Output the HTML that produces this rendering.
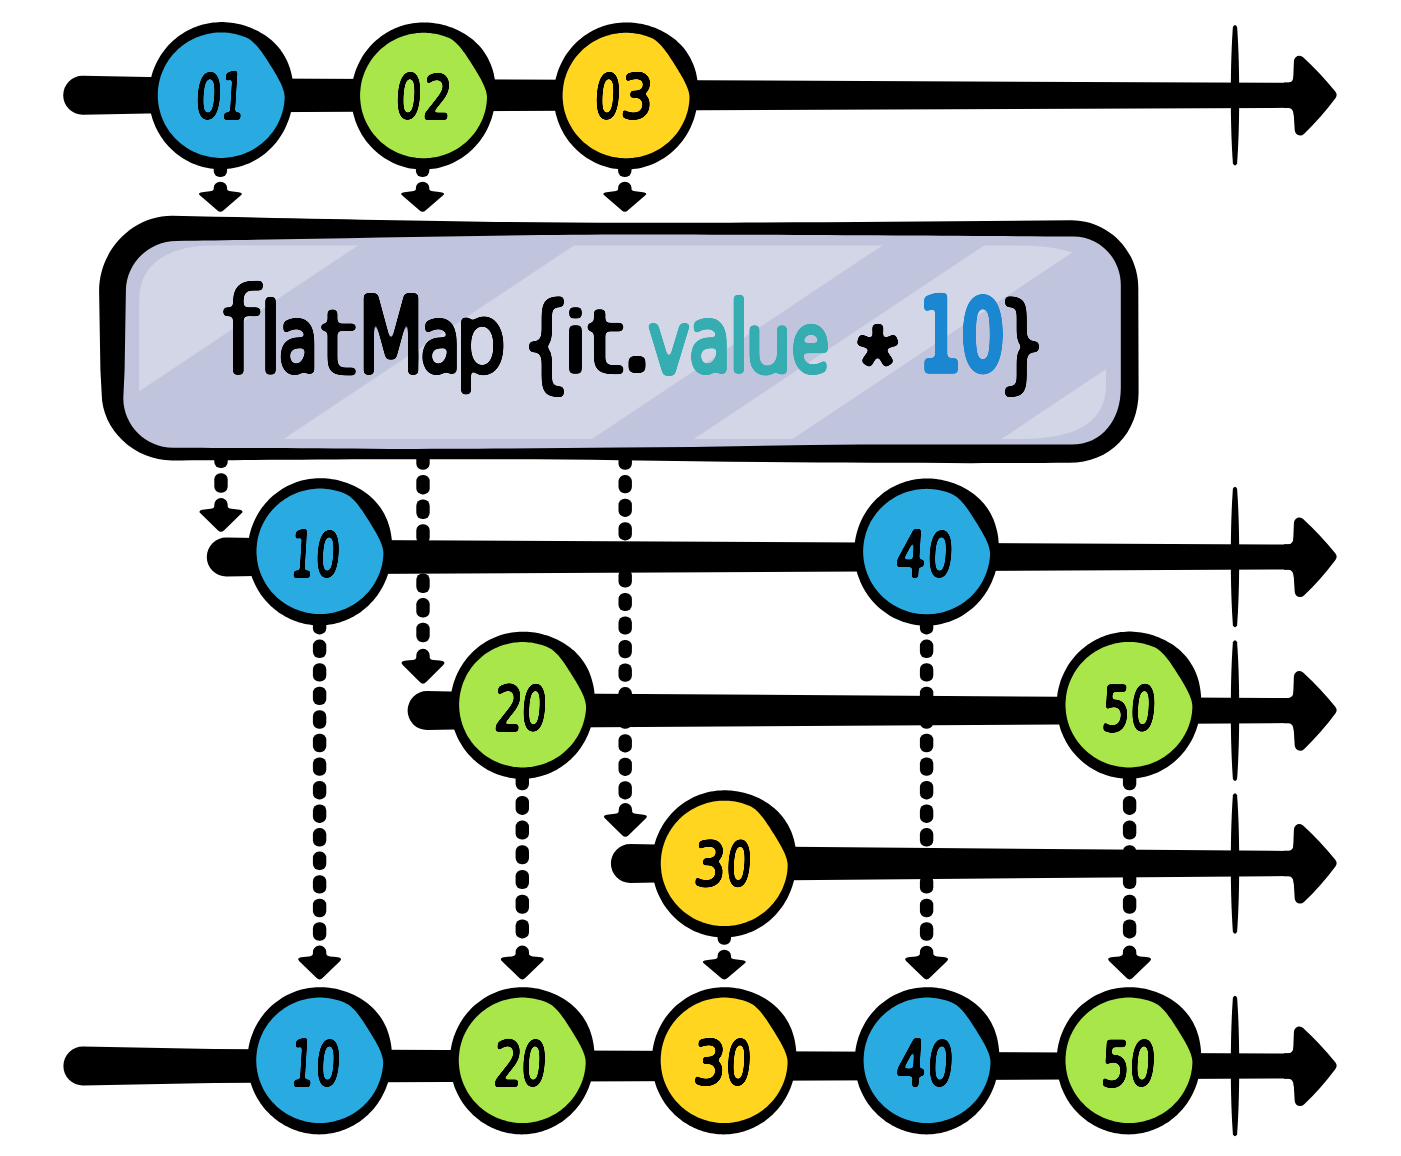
<!DOCTYPE html>
<html lang="en"><head><meta charset="utf-8"><title>flatMap marble diagram</title><style>
html,body{margin:0;padding:0;background:#fff;}
svg{display:block;}
text{fill:#000;stroke:#000;stroke-linejoin:round;stroke-linecap:round;white-space:pre;}
</style></head><body>
<svg width="1401" height="1156" viewBox="0 0 1401 1156">
<rect width="1401" height="1156" fill="#fff"/>
<defs><filter id="rf" x="-5%" y="-20%" width="110%" height="140%" color-interpolation-filters="sRGB"><feGaussianBlur stdDeviation="2.3"/><feComponentTransfer><feFuncA type="linear" slope="9" intercept="-4"/></feComponentTransfer></filter><filter id="rn" x="-20%" y="-20%" width="140%" height="140%" color-interpolation-filters="sRGB"><feGaussianBlur stdDeviation="1.4"/><feComponentTransfer><feFuncA type="linear" slope="7" intercept="-3"/></feComponentTransfer></filter></defs>
<g fill="#000">
<rect x="213.7" y="160.0" width="13.4" height="17.0" rx="6.2" ry="6.2"/>
<path d="M213.7,187.7 A6.7,5.93 0 0 1 227.1,187.7 L227.1,189.0 Q227.3,191.1 230.9,191.3 L236.9,191.9 Q244.4,192.5 240.7,195.5 L223.6,210.2 Q220.4,213.2 217.2,210.2 L200.1,195.5 Q196.4,192.5 203.9,191.9 L209.9,191.3 Q213.5,191.1 213.7,189.0 Z"/>
<rect x="415.9" y="160.0" width="13.4" height="17.0" rx="6.2" ry="6.2"/>
<path d="M415.9,187.7 A6.7,5.93 0 0 1 429.3,187.7 L429.3,189.0 Q429.5,191.1 433.1,191.3 L439.1,191.9 Q446.6,192.5 442.9,195.5 L425.8,210.2 Q422.6,213.2 419.4,210.2 L402.3,195.5 Q398.6,192.5 406.1,191.9 L412.1,191.3 Q415.7,191.1 415.9,189.0 Z"/>
<rect x="618.1" y="160.0" width="13.4" height="17.0" rx="6.2" ry="6.2"/>
<path d="M618.1,187.7 A6.7,5.93 0 0 1 631.5,187.7 L631.5,189.0 Q631.7,191.1 635.3,191.3 L641.3,191.9 Q648.8,192.5 645.1,195.5 L628.0,210.2 Q624.8,213.2 621.6,210.2 L604.5,195.5 Q600.8,192.5 608.3,191.9 L614.3,191.3 Q617.9,191.1 618.1,189.0 Z"/>
<rect x="214.3" y="448.7" width="13.4" height="19.4" rx="6.2" ry="6.2"/><rect x="214.3" y="473.3" width="13.4" height="19.4" rx="6.2" ry="6.2"/>
<path d="M214.3,504.7 A6.7,6.70 0 0 1 227.7,504.7 L227.7,506.2 Q227.9,508.6 231.5,508.8 L237.5,509.5 Q245.0,510.2 241.3,513.6 L224.2,530.2 Q221.0,533.5 217.8,530.2 L200.7,513.6 Q197.0,510.2 204.5,509.5 L210.5,508.8 Q214.1,508.6 214.3,506.2 Z"/>
<rect x="416.3" y="450.2" width="13.4" height="19.5" rx="6.2" ry="6.2"/><rect x="416.3" y="474.9" width="13.4" height="19.5" rx="6.2" ry="6.2"/><rect x="416.3" y="499.5" width="13.4" height="19.5" rx="6.2" ry="6.2"/><rect x="416.3" y="524.2" width="13.4" height="19.5" rx="6.2" ry="6.2"/><rect x="416.3" y="548.8" width="13.4" height="19.5" rx="6.2" ry="6.2"/><rect x="416.3" y="573.5" width="13.4" height="19.5" rx="6.2" ry="6.2"/><rect x="416.3" y="598.1" width="13.4" height="19.5" rx="6.2" ry="6.2"/><rect x="416.3" y="622.8" width="13.4" height="19.5" rx="6.2" ry="6.2"/>
<path d="M416.3,655.6 A6.7,6.97 0 0 1 429.7,655.6 L429.7,657.2 Q429.9,659.7 433.5,659.9 L439.5,660.6 Q447.0,661.3 443.3,664.9 L426.2,682.1 Q423.0,685.6 419.8,682.1 L402.7,664.9 Q399.0,661.3 406.5,660.6 L412.5,659.9 Q416.1,659.7 416.3,657.2 Z"/>
<rect x="618.5" y="451.6" width="13.4" height="18.2" rx="6.2" ry="6.2"/><rect x="618.5" y="475.1" width="13.4" height="18.2" rx="6.2" ry="6.2"/><rect x="618.5" y="498.7" width="13.4" height="18.2" rx="6.2" ry="6.2"/><rect x="618.5" y="522.2" width="13.4" height="18.2" rx="6.2" ry="6.2"/><rect x="618.5" y="545.8" width="13.4" height="18.2" rx="6.2" ry="6.2"/><rect x="618.5" y="569.3" width="13.4" height="18.2" rx="6.2" ry="6.2"/><rect x="618.5" y="592.9" width="13.4" height="18.2" rx="6.2" ry="6.2"/><rect x="618.5" y="616.4" width="13.4" height="18.2" rx="6.2" ry="6.2"/><rect x="618.5" y="640.0" width="13.4" height="18.2" rx="6.2" ry="6.2"/><rect x="618.5" y="663.5" width="13.4" height="18.2" rx="6.2" ry="6.2"/><rect x="618.5" y="687.1" width="13.4" height="18.2" rx="6.2" ry="6.2"/><rect x="618.5" y="710.6" width="13.4" height="18.2" rx="6.2" ry="6.2"/><rect x="618.5" y="734.2" width="13.4" height="18.2" rx="6.2" ry="6.2"/><rect x="618.5" y="757.7" width="13.4" height="18.2" rx="6.2" ry="6.2"/><rect x="618.5" y="781.2" width="13.4" height="18.2" rx="6.2" ry="6.2"/>
<path d="M618.7,809.7 A6.7,6.70 0 0 1 632.1,809.7 L632.1,811.2 Q632.3,813.6 635.9,813.8 L641.9,814.5 Q649.4,815.2 645.7,818.6 L628.6,835.2 Q625.4,838.5 622.2,835.2 L605.1,818.6 Q601.4,815.2 608.9,814.5 L614.9,813.8 Q618.5,813.6 618.7,811.2 Z"/>
<rect x="312.9" y="616.0" width="13.4" height="18.4" rx="6.2" ry="6.2"/><rect x="312.9" y="639.6" width="13.4" height="18.4" rx="6.2" ry="6.2"/><rect x="312.9" y="663.2" width="13.4" height="18.4" rx="6.2" ry="6.2"/><rect x="312.9" y="686.7" width="13.4" height="18.4" rx="6.2" ry="6.2"/><rect x="312.9" y="710.3" width="13.4" height="18.4" rx="6.2" ry="6.2"/><rect x="312.9" y="733.8" width="13.4" height="18.4" rx="6.2" ry="6.2"/><rect x="312.9" y="757.4" width="13.4" height="18.4" rx="6.2" ry="6.2"/><rect x="312.9" y="781.0" width="13.4" height="18.4" rx="6.2" ry="6.2"/><rect x="312.9" y="804.5" width="13.4" height="18.4" rx="6.2" ry="6.2"/><rect x="312.9" y="828.1" width="13.4" height="18.4" rx="6.2" ry="6.2"/><rect x="312.9" y="851.6" width="13.4" height="18.4" rx="6.2" ry="6.2"/><rect x="312.9" y="875.2" width="13.4" height="18.4" rx="6.2" ry="6.2"/><rect x="312.9" y="898.8" width="13.4" height="18.4" rx="6.2" ry="6.2"/><rect x="312.9" y="922.3" width="13.4" height="18.4" rx="6.2" ry="6.2"/>
<path d="M312.9,952.3 A6.7,6.70 0 0 1 326.3,952.3 L326.3,953.8 Q326.5,956.2 330.1,956.4 L336.1,957.1 Q343.6,957.8 339.9,961.2 L322.8,977.8 Q319.6,981.1 316.4,977.8 L299.3,961.2 Q295.6,957.8 303.1,957.1 L309.1,956.4 Q312.7,956.2 312.9,953.8 Z"/>
<rect x="515.6" y="771.2" width="13.4" height="19.0" rx="6.2" ry="6.2"/><rect x="515.6" y="795.9" width="13.4" height="19.0" rx="6.2" ry="6.2"/><rect x="515.6" y="820.6" width="13.4" height="19.0" rx="6.2" ry="6.2"/><rect x="515.6" y="845.3" width="13.4" height="19.0" rx="6.2" ry="6.2"/><rect x="515.6" y="870.0" width="13.4" height="19.0" rx="6.2" ry="6.2"/><rect x="515.6" y="894.7" width="13.4" height="19.0" rx="6.2" ry="6.2"/><rect x="515.6" y="919.4" width="13.4" height="19.0" rx="6.2" ry="6.2"/>
<path d="M515.6,952.3 A6.7,6.70 0 0 1 529.0,952.3 L529.0,953.8 Q529.2,956.2 532.8,956.4 L538.8,957.1 Q546.3,957.8 542.6,961.2 L525.5,977.8 Q522.3,981.1 519.1,977.8 L502.0,961.2 Q498.3,957.8 505.8,957.1 L511.8,956.4 Q515.4,956.2 515.6,953.8 Z"/>
<rect x="717.6" y="926.0" width="13.4" height="18.8" rx="6.2" ry="6.2"/>
<path d="M717.6,955.7 A6.7,5.86 0 0 1 731.0,955.7 L731.0,957.0 Q731.2,959.1 734.8,959.3 L740.8,959.9 Q748.3,960.5 744.6,963.5 L727.5,978.0 Q724.3,980.9 721.1,978.0 L704.0,963.5 Q700.3,960.5 707.8,959.9 L713.8,959.3 Q717.4,959.1 717.6,957.0 Z"/>
<rect x="919.9" y="616.0" width="13.4" height="18.4" rx="6.2" ry="6.2"/><rect x="919.9" y="639.6" width="13.4" height="18.4" rx="6.2" ry="6.2"/><rect x="919.9" y="663.2" width="13.4" height="18.4" rx="6.2" ry="6.2"/><rect x="919.9" y="686.7" width="13.4" height="18.4" rx="6.2" ry="6.2"/><rect x="919.9" y="710.3" width="13.4" height="18.4" rx="6.2" ry="6.2"/><rect x="919.9" y="733.8" width="13.4" height="18.4" rx="6.2" ry="6.2"/><rect x="919.9" y="757.4" width="13.4" height="18.4" rx="6.2" ry="6.2"/><rect x="919.9" y="781.0" width="13.4" height="18.4" rx="6.2" ry="6.2"/><rect x="919.9" y="804.5" width="13.4" height="18.4" rx="6.2" ry="6.2"/><rect x="919.9" y="828.1" width="13.4" height="18.4" rx="6.2" ry="6.2"/><rect x="919.9" y="851.6" width="13.4" height="18.4" rx="6.2" ry="6.2"/><rect x="919.9" y="875.2" width="13.4" height="18.4" rx="6.2" ry="6.2"/><rect x="919.9" y="898.8" width="13.4" height="18.4" rx="6.2" ry="6.2"/><rect x="919.9" y="922.3" width="13.4" height="18.4" rx="6.2" ry="6.2"/>
<path d="M919.9,952.3 A6.7,6.70 0 0 1 933.3,952.3 L933.3,953.8 Q933.5,956.2 937.1,956.4 L943.1,957.1 Q950.6,957.8 946.9,961.2 L929.8,977.8 Q926.6,981.1 923.4,977.8 L906.3,961.2 Q902.6,957.8 910.1,957.1 L916.1,956.4 Q919.7,956.2 919.9,953.8 Z"/>
<rect x="1122.9" y="771.2" width="13.4" height="19.0" rx="6.2" ry="6.2"/><rect x="1122.9" y="795.9" width="13.4" height="19.0" rx="6.2" ry="6.2"/><rect x="1122.9" y="820.6" width="13.4" height="19.0" rx="6.2" ry="6.2"/><rect x="1122.9" y="845.3" width="13.4" height="19.0" rx="6.2" ry="6.2"/><rect x="1122.9" y="870.0" width="13.4" height="19.0" rx="6.2" ry="6.2"/><rect x="1122.9" y="894.7" width="13.4" height="19.0" rx="6.2" ry="6.2"/><rect x="1122.9" y="919.4" width="13.4" height="19.0" rx="6.2" ry="6.2"/>
<path d="M1122.9,952.3 A6.7,6.70 0 0 1 1136.3,952.3 L1136.3,953.8 Q1136.5,956.2 1140.1,956.4 L1146.1,957.1 Q1153.6,957.8 1149.9,961.2 L1132.8,977.8 Q1129.6,981.1 1126.4,977.8 L1109.3,961.2 Q1105.6,957.8 1113.1,957.1 L1119.1,956.4 Q1122.7,956.2 1122.9,953.8 Z"/>
<path d="M82.7,75.8 L213.2,78.3 L1291.0,82.8 L1291.0,107.8 L213.2,112.3 L82.7,114.8 A19.5,19.5 0 0 1 82.7,75.8 Z"/>
<path d="M1299.4,61.3 Q1316.2,76.7 1331.0,95.0 Q1316.6,114.3 1300.2,129.9 Q1297.6,95.3 1299.4,61.3 Z" stroke="#000" stroke-width="11" stroke-linejoin="round"/><path d="M1284,82.6 L1288.5,82.6 Q1293.4,82.4 1293.8,75.3 L1296,75.3 L1296,115.3 L1293.8,115.3 Q1293.4,108.2 1288.5,108.0 L1284,108.0 Z"/>
<path d="M1232.9,27.0 Q1235.0,23.0 1237.1,27.0 C1238.4,45.0 1239.2,67.3 1239.2,95.3 C1239.2,123.3 1238.4,145.6 1237.1,163.6 Q1235.0,167.6 1232.9,163.6 C1231.6,145.6 1230.8,123.3 1230.8,95.3 C1230.8,67.3 1231.6,45.0 1232.9,27.0 Z"/>
<path d="M226.3,537.5 L356.8,540.0 L1291.0,544.5 L1291.0,569.5 L356.8,574.0 L226.3,576.5 A19.5,19.5 0 0 1 226.3,537.5 Z"/>
<path d="M1299.4,523.0 Q1316.2,538.4 1331.0,556.7 Q1316.6,576.0 1300.2,591.6 Q1297.6,557.0 1299.4,523.0 Z" stroke="#000" stroke-width="11" stroke-linejoin="round"/><path d="M1284,544.3 L1288.5,544.3 Q1293.4,544.1 1293.8,537.0 L1296,537.0 L1296,577.0 L1293.8,577.0 Q1293.4,569.9 1288.5,569.7 L1284,569.7 Z"/>
<path d="M1232.9,488.7 Q1235.0,484.7 1237.1,488.7 C1238.4,506.7 1239.2,529.0 1239.2,557.0 C1239.2,585.0 1238.4,607.3 1237.1,625.3 Q1235.0,629.3 1232.9,625.3 C1231.6,607.3 1230.8,585.0 1230.8,557.0 C1230.8,529.0 1231.6,506.7 1232.9,488.7 Z"/>
<path d="M427.1,691.1 L557.6,693.6 L1291.0,698.1 L1291.0,723.1 L557.6,727.6 L427.1,730.1 A19.5,19.5 0 0 1 427.1,691.1 Z"/>
<path d="M1299.4,676.6 Q1316.2,692.0 1331.0,710.3 Q1316.6,729.6 1300.2,745.2 Q1297.6,710.6 1299.4,676.6 Z" stroke="#000" stroke-width="11" stroke-linejoin="round"/><path d="M1284,697.9 L1288.5,697.9 Q1293.4,697.7 1293.8,690.6 L1296,690.6 L1296,730.6 L1293.8,730.6 Q1293.4,723.5 1288.5,723.3 L1284,723.3 Z"/>
<path d="M1232.9,642.3 Q1235.0,638.3 1237.1,642.3 C1238.4,660.3 1239.2,682.6 1239.2,710.6 C1239.2,738.6 1238.4,760.9 1237.1,778.9 Q1235.0,782.9 1232.9,778.9 C1231.6,760.9 1230.8,738.6 1230.8,710.6 C1230.8,682.6 1231.6,660.3 1232.9,642.3 Z"/>
<path d="M630.4,844.0 L760.9,846.5 L1291.0,851.0 L1291.0,876.0 L760.9,880.5 L630.4,883.0 A19.5,19.5 0 0 1 630.4,844.0 Z"/>
<path d="M1299.4,829.5 Q1316.2,844.9 1331.0,863.2 Q1316.6,882.5 1300.2,898.1 Q1297.6,863.5 1299.4,829.5 Z" stroke="#000" stroke-width="11" stroke-linejoin="round"/><path d="M1284,850.8 L1288.5,850.8 Q1293.4,850.6 1293.8,843.5 L1296,843.5 L1296,883.5 L1293.8,883.5 Q1293.4,876.4 1288.5,876.2 L1284,876.2 Z"/>
<path d="M1232.9,795.2 Q1235.0,791.2 1237.1,795.2 C1238.4,813.2 1239.2,835.5 1239.2,863.5 C1239.2,891.5 1238.4,913.8 1237.1,931.8 Q1235.0,935.8 1232.9,931.8 C1231.6,913.8 1230.8,891.5 1230.8,863.5 C1230.8,835.5 1231.6,813.2 1232.9,795.2 Z"/>
<path d="M82.9,1046.5 L213.4,1049.0 L1291.0,1053.5 L1291.0,1078.5 L213.4,1083.0 L82.9,1085.5 A19.5,19.5 0 0 1 82.9,1046.5 Z"/>
<path d="M1299.4,1032.0 Q1316.2,1047.4 1331.0,1065.7 Q1316.6,1085.0 1300.2,1100.6 Q1297.6,1066.0 1299.4,1032.0 Z" stroke="#000" stroke-width="11" stroke-linejoin="round"/><path d="M1284,1053.3 L1288.5,1053.3 Q1293.4,1053.1 1293.8,1046.0 L1296,1046.0 L1296,1086.0 L1293.8,1086.0 Q1293.4,1078.9 1288.5,1078.7 L1284,1078.7 Z"/>
<path d="M1232.9,997.7 Q1235.0,993.7 1237.1,997.7 C1238.4,1015.7 1239.2,1038.0 1239.2,1066.0 C1239.2,1094.0 1238.4,1116.3 1237.1,1134.3 Q1235.0,1138.3 1232.9,1134.3 C1231.6,1116.3 1230.8,1094.0 1230.8,1066.0 C1230.8,1038.0 1231.6,1015.7 1232.9,997.7 Z"/>
<path d="M172,215.8 C390,220.2 500,222.8 630,222.8 C760,222.8 930,221.6 1071,220.2 C1108.6,220.2 1138.3,250.5 1138.3,288 L1138.6,392 C1138.6,433 1110,462.8 1069,462.8 C960,463.6 800,463 620,460.3 C540,459 460,459.2 390,459.3 C300,459.5 230,460.3 172,460.4 C134.4,460.4 101.8,429.6 101.7,394 L100.4,370 L99.1,291 C99.1,250.7 131.7,215.8 172,215.8 Z"/>
<path d="M176.5,241 C300,239.5 500,234.5 630,234.5 C760,234.5 950,235.8 1073,236.6 C1099.8,236.6 1120.8,258.2 1120.8,285 L1120.8,388 C1120.8,419.5 1102.5,444.6 1071.5,444.6 C1000,444.4 900,444.4 860,444.5 C780,445 700,447 620,447.6 C540,448.6 450,449 390,449 C300,448.5 230,447.8 173,447.7 C146,447.7 123.4,425.5 123.3,398.5 L124.6,370 L125.9,291 C125.9,263.4 148.9,241 176.5,241 Z" fill="#c0c5dd"/>
<clipPath id="ins"><path d="M139.2,300 C139.2,270 160,245.2 215,245.2 L1005,245.2 C1085,245.2 1106,260 1106,305 L1106,385 C1106,420 1080,439 1020,439 L139.2,439 Z"/></clipPath>
<g clip-path="url(#ins)" fill="#d2d6e6">
<path d="M100,245.2 L358.5,245.2 L67.8,439.0 L-190.7,439.0 Z"/>
<path d="M574.3,245.2 L882.7,245.2 L592.0,439.0 L283.6,439.0 Z"/>
<path d="M984.4,245.2 L1083.2,245.2 L792.5,439.0 L693.7,439.0 Z"/>
<path d="M1292.2,245.2 L1500,245.2 L1209.3,439.0 L1001.5,439.0 Z"/>
</g>
<path d="M293.3,95.8 L293.2,98.3 L292.9,100.8 L292.6,103.3 L292.2,105.8 L291.8,108.3 L291.3,110.8 L290.7,113.2 L290.0,115.7 L289.3,118.1 L288.4,120.4 L287.5,122.8 L286.6,125.1 L285.5,127.4 L284.4,129.7 L283.2,131.9 L282.0,134.1 L280.6,136.2 L279.2,138.3 L277.7,140.4 L276.2,142.4 L274.6,144.3 L272.9,146.2 L271.1,148.0 L269.3,149.8 L267.4,151.5 L265.5,153.2 L263.5,154.7 L261.4,156.3 L259.3,157.7 L257.2,159.0 L255.0,160.3 L252.7,161.5 L250.4,162.7 L248.1,163.7 L245.7,164.6 L243.3,165.5 L240.9,166.3 L238.4,167.0 L235.9,167.6 L233.4,168.1 L230.9,168.5 L228.3,168.8 L225.8,169.1 L223.2,169.2 L220.7,169.3 L218.1,169.2 L215.5,169.1 L213.0,168.8 L210.4,168.5 L207.9,168.1 L205.4,167.6 L202.9,167.0 L200.4,166.3 L198.0,165.5 L195.6,164.6 L193.2,163.7 L190.9,162.7 L188.6,161.5 L186.3,160.3 L184.1,159.0 L182.0,157.7 L179.9,156.3 L177.8,154.7 L175.8,153.2 L173.9,151.5 L172.0,149.8 L170.2,148.0 L168.4,146.2 L166.7,144.3 L165.1,142.4 L163.6,140.4 L162.1,138.3 L160.7,136.2 L159.4,134.1 L158.1,131.9 L156.9,129.6 L155.8,127.4 L154.8,125.1 L153.9,122.8 L153.0,120.4 L152.2,118.0 L151.5,115.6 L150.9,113.2 L150.3,110.7 L149.9,108.2 L149.5,105.8 L149.2,103.3 L149.0,100.8 L148.9,98.3 L148.8,95.8 L148.9,93.3 L149.0,90.8 L149.2,88.3 L149.5,85.8 L149.9,83.3 L150.3,80.8 L150.9,78.4 L151.5,75.9 L152.2,73.5 L153.0,71.1 L153.9,68.8 L154.8,66.5 L155.8,64.2 L156.9,61.9 L158.1,59.7 L159.4,57.5 L160.7,55.3 L162.1,53.2 L163.6,51.2 L165.1,49.2 L166.7,47.2 L168.4,45.3 L170.2,43.5 L172.0,41.7 L173.9,40.0 L175.8,38.4 L177.8,36.8 L179.9,35.3 L182.0,33.9 L184.1,32.5 L186.3,31.2 L188.6,30.0 L190.9,28.9 L193.2,27.8 L195.6,26.9 L198.0,26.0 L200.4,25.2 L202.9,24.5 L205.4,23.9 L207.9,23.4 L210.4,23.0 L213.0,22.6 L215.5,22.4 L218.1,22.2 L220.7,22.1 L223.2,22.1 L225.8,22.2 L228.4,22.4 L230.9,22.7 L233.5,23.1 L236.0,23.5 L238.5,24.0 L241.1,24.6 L243.5,25.3 L246.0,26.1 L248.5,26.9 L250.9,27.8 L253.3,28.9 L255.7,29.9 L258.0,31.1 L260.3,32.4 L262.5,33.7 L264.7,35.1 L266.9,36.6 L269.0,38.2 L271.0,39.8 L273.0,41.6 L274.9,43.4 L276.7,45.3 L278.4,47.3 L280.1,49.3 L281.6,51.5 L283.1,53.7 L284.5,55.9 L285.7,58.2 L286.9,60.6 L288.0,62.9 L288.9,65.4 L289.8,67.8 L290.5,70.3 L291.2,72.8 L291.8,75.4 L292.3,77.9 L292.7,80.5 L293.0,83.0 L293.2,85.6 L293.4,88.1 L293.4,90.7 L293.4,93.2Z"/><path d="M284.5,95.2 L284.7,97.4 L284.6,99.6 L284.4,101.8 L284.1,104.0 L283.8,106.2 L283.3,108.4 L282.8,110.6 L282.2,112.7 L281.6,114.8 L280.8,116.9 L280.0,118.9 L279.1,121.0 L278.2,123.0 L277.2,124.9 L276.1,126.8 L274.9,128.7 L273.7,130.6 L272.4,132.4 L271.0,134.1 L269.6,135.8 L268.2,137.4 L266.6,139.0 L265.1,140.6 L263.4,142.1 L261.8,143.5 L260.0,144.8 L258.3,146.1 L256.4,147.4 L254.6,148.6 L252.7,149.7 L250.8,150.7 L248.8,151.7 L246.8,152.6 L244.8,153.4 L242.7,154.2 L240.6,154.9 L238.5,155.5 L236.4,156.1 L234.3,156.6 L232.1,157.0 L230.0,157.3 L227.8,157.6 L225.6,157.8 L223.4,157.9 L221.2,157.9 L219.1,157.9 L216.9,157.8 L214.7,157.6 L212.5,157.3 L210.4,157.0 L208.2,156.6 L206.1,156.1 L204.0,155.5 L201.9,154.9 L199.8,154.2 L197.7,153.4 L195.7,152.6 L193.7,151.7 L191.7,150.7 L189.8,149.7 L187.9,148.6 L186.1,147.4 L184.2,146.1 L182.5,144.8 L180.7,143.5 L179.1,142.1 L177.4,140.6 L175.9,139.0 L174.3,137.4 L172.9,135.8 L171.5,134.1 L170.1,132.4 L168.8,130.6 L167.6,128.7 L166.4,126.8 L165.3,124.9 L164.3,123.0 L163.4,121.0 L162.5,118.9 L161.7,116.9 L160.9,114.8 L160.3,112.7 L159.7,110.6 L159.2,108.4 L158.7,106.2 L158.4,104.0 L158.1,101.8 L157.9,99.6 L157.8,97.4 L157.8,95.2 L157.8,93.0 L157.9,90.8 L158.1,88.6 L158.4,86.4 L158.7,84.2 L159.2,82.0 L159.7,79.8 L160.3,77.7 L160.9,75.6 L161.7,73.5 L162.5,71.5 L163.4,69.4 L164.3,67.4 L165.3,65.5 L166.4,63.6 L167.6,61.7 L168.8,59.8 L170.1,58.0 L171.5,56.3 L172.9,54.6 L174.3,53.0 L175.9,51.4 L177.4,49.8 L179.1,48.3 L180.7,46.9 L182.5,45.6 L184.2,44.3 L186.1,43.0 L187.9,41.8 L189.8,40.7 L191.7,39.7 L193.7,38.7 L195.7,37.8 L197.7,37.0 L199.8,36.2 L201.9,35.5 L204.0,34.9 L206.1,34.3 L208.2,33.8 L210.4,33.4 L212.5,33.1 L214.7,32.8 L216.9,32.6 L219.1,32.5 L221.2,32.5 L223.4,32.5 L225.6,32.6 L227.8,32.8 L230.0,33.1 L232.1,33.4 L234.3,33.8 L236.4,34.3 L238.5,34.9 L240.6,35.5 L242.7,36.2 L244.8,37.0 L246.8,37.8 L248.7,38.8 L250.6,40.0 L252.3,41.4 L253.9,42.9 L255.5,44.4 L257.0,46.0 L258.4,47.7 L259.7,49.4 L261.0,51.1 L262.2,52.8 L263.4,54.5 L264.6,56.2 L265.7,57.9 L266.8,59.6 L267.9,61.3 L269.0,63.0 L270.0,64.7 L271.1,66.4 L272.2,68.1 L273.2,69.8 L274.3,71.6 L275.3,73.3 L276.4,75.1 L277.4,77.0 L278.4,78.8 L279.4,80.7 L280.4,82.6 L281.3,84.6 L282.2,86.6 L282.9,88.7 L283.6,90.8 L284.1,93.0Z" fill="#29abe2"/><text class="num" filter="url(#rn)" transform="translate(0,95.8) skewX(-3.5) translate(0,-95.8)"><tspan x="196.0" y="117.8" textLength="25.85" lengthAdjust="spacingAndGlyphs" style="font-family:'DejaVu Sans Condensed','DejaVu Sans','Liberation Sans',sans-serif;font-size:59.9px;stroke-width:2.4px;">0</tspan><tspan x="221.6" y="118.6" textLength="22.86" lengthAdjust="spacingAndGlyphs" style="font-family:'DejaVu Sans Condensed','DejaVu Sans','Liberation Sans',sans-serif;font-size:63.1px;stroke-width:2.4px;">1</tspan></text>
<path d="M495.7,96.1 L495.5,98.6 L495.3,101.1 L495.0,103.6 L494.6,106.1 L494.1,108.6 L493.6,111.1 L493.0,113.5 L492.3,116.0 L491.6,118.4 L490.8,120.7 L489.9,123.1 L488.9,125.4 L487.9,127.7 L486.8,130.0 L485.6,132.2 L484.3,134.4 L483.0,136.5 L481.6,138.6 L480.1,140.7 L478.5,142.7 L476.9,144.6 L475.2,146.5 L473.5,148.3 L471.7,150.1 L469.8,151.8 L467.8,153.5 L465.8,155.0 L463.8,156.6 L461.7,158.0 L459.5,159.3 L457.3,160.6 L455.1,161.8 L452.8,163.0 L450.4,164.0 L448.1,164.9 L445.7,165.8 L443.2,166.6 L440.8,167.3 L438.3,167.9 L435.8,168.4 L433.2,168.8 L430.7,169.1 L428.1,169.4 L425.6,169.5 L423.0,169.6 L420.4,169.5 L417.9,169.4 L415.3,169.1 L412.8,168.8 L410.2,168.4 L407.7,167.9 L405.2,167.3 L402.8,166.6 L400.3,165.8 L397.9,164.9 L395.6,164.0 L393.2,163.0 L390.9,161.8 L388.7,160.6 L386.5,159.3 L384.3,158.0 L382.2,156.6 L380.2,155.0 L378.2,153.5 L376.2,151.8 L374.3,150.1 L372.5,148.3 L370.8,146.5 L369.1,144.6 L367.5,142.7 L365.9,140.7 L364.4,138.6 L363.0,136.5 L361.7,134.4 L360.5,132.2 L359.3,129.9 L358.2,127.7 L357.2,125.4 L356.2,123.1 L355.3,120.7 L354.6,118.3 L353.9,115.9 L353.2,113.5 L352.7,111.0 L352.2,108.5 L351.9,106.1 L351.6,103.6 L351.4,101.1 L351.2,98.6 L351.2,96.1 L351.2,93.6 L351.4,91.1 L351.6,88.6 L351.9,86.1 L352.2,83.6 L352.7,81.1 L353.2,78.7 L353.9,76.2 L354.6,73.8 L355.3,71.4 L356.2,69.1 L357.2,66.8 L358.2,64.5 L359.3,62.2 L360.5,60.0 L361.7,57.8 L363.0,55.6 L364.4,53.5 L365.9,51.5 L367.5,49.5 L369.1,47.5 L370.8,45.6 L372.5,43.8 L374.3,42.0 L376.2,40.3 L378.2,38.7 L380.2,37.1 L382.2,35.6 L384.3,34.2 L386.5,32.8 L388.7,31.5 L390.9,30.3 L393.2,29.2 L395.6,28.1 L397.9,27.2 L400.3,26.3 L402.8,25.5 L405.2,24.8 L407.7,24.2 L410.2,23.7 L412.8,23.3 L415.3,22.9 L417.9,22.7 L420.4,22.5 L423.0,22.4 L425.6,22.4 L428.1,22.5 L430.7,22.7 L433.3,23.0 L435.8,23.4 L438.4,23.8 L440.9,24.3 L443.4,24.9 L445.9,25.6 L448.4,26.4 L450.8,27.2 L453.2,28.1 L455.6,29.2 L458.0,30.2 L460.3,31.4 L462.6,32.7 L464.9,34.0 L467.1,35.4 L469.2,36.9 L471.3,38.5 L473.4,40.1 L475.3,41.9 L477.2,43.7 L479.0,45.6 L480.8,47.6 L482.4,49.6 L484.0,51.8 L485.4,54.0 L486.8,56.2 L488.1,58.5 L489.2,60.9 L490.3,63.2 L491.3,65.7 L492.1,68.1 L492.9,70.6 L493.6,73.1 L494.1,75.7 L494.6,78.2 L495.0,80.8 L495.3,83.3 L495.6,85.9 L495.7,88.4 L495.8,91.0 L495.8,93.5Z"/><path d="M486.9,95.5 L487.0,97.7 L486.9,99.9 L486.7,102.1 L486.5,104.3 L486.1,106.5 L485.7,108.7 L485.2,110.9 L484.6,113.0 L483.9,115.1 L483.2,117.2 L482.4,119.2 L481.5,121.3 L480.5,123.3 L479.5,125.2 L478.4,127.1 L477.3,129.0 L476.0,130.9 L474.7,132.7 L473.4,134.4 L472.0,136.1 L470.5,137.7 L469.0,139.3 L467.4,140.9 L465.8,142.4 L464.1,143.8 L462.4,145.1 L460.6,146.4 L458.8,147.7 L456.9,148.9 L455.0,150.0 L453.1,151.0 L451.2,152.0 L449.2,152.9 L447.1,153.7 L445.1,154.5 L443.0,155.2 L440.9,155.8 L438.8,156.4 L436.6,156.9 L434.5,157.3 L432.3,157.6 L430.2,157.9 L428.0,158.1 L425.8,158.2 L423.6,158.2 L421.4,158.2 L419.2,158.1 L417.0,157.9 L414.9,157.6 L412.7,157.3 L410.6,156.9 L408.4,156.4 L406.3,155.8 L404.2,155.2 L402.1,154.5 L400.1,153.7 L398.0,152.9 L396.0,152.0 L394.1,151.0 L392.2,150.0 L390.3,148.9 L388.4,147.7 L386.6,146.4 L384.8,145.1 L383.1,143.8 L381.4,142.4 L379.8,140.9 L378.2,139.3 L376.7,137.7 L375.2,136.1 L373.8,134.4 L372.5,132.7 L371.2,130.9 L369.9,129.0 L368.8,127.1 L367.7,125.2 L366.7,123.3 L365.7,121.3 L364.8,119.2 L364.0,117.2 L363.3,115.1 L362.6,113.0 L362.0,110.9 L361.5,108.7 L361.1,106.5 L360.7,104.3 L360.5,102.1 L360.3,99.9 L360.1,97.7 L360.1,95.5 L360.1,93.3 L360.3,91.1 L360.5,88.9 L360.7,86.7 L361.1,84.5 L361.5,82.3 L362.0,80.1 L362.6,78.0 L363.3,75.9 L364.0,73.8 L364.8,71.8 L365.7,69.7 L366.7,67.7 L367.7,65.8 L368.8,63.9 L369.9,62.0 L371.2,60.1 L372.5,58.3 L373.8,56.6 L375.2,54.9 L376.7,53.3 L378.2,51.7 L379.8,50.1 L381.4,48.6 L383.1,47.2 L384.8,45.9 L386.6,44.6 L388.4,43.3 L390.3,42.1 L392.2,41.0 L394.1,40.0 L396.0,39.0 L398.0,38.1 L400.1,37.3 L402.1,36.5 L404.2,35.8 L406.3,35.2 L408.4,34.6 L410.6,34.1 L412.7,33.7 L414.9,33.4 L417.0,33.1 L419.2,32.9 L421.4,32.8 L423.6,32.8 L425.8,32.8 L428.0,32.9 L430.2,33.1 L432.3,33.4 L434.5,33.7 L436.6,34.1 L438.8,34.6 L440.9,35.2 L443.0,35.8 L445.1,36.5 L447.1,37.3 L449.2,38.1 L451.1,39.1 L452.9,40.3 L454.7,41.7 L456.3,43.2 L457.8,44.7 L459.3,46.3 L460.7,48.0 L462.1,49.7 L463.3,51.4 L464.6,53.1 L465.8,54.8 L466.9,56.5 L468.0,58.2 L469.2,59.9 L470.2,61.6 L471.3,63.3 L472.4,65.0 L473.5,66.7 L474.5,68.4 L475.6,70.1 L476.6,71.9 L477.7,73.6 L478.7,75.4 L479.8,77.3 L480.8,79.1 L481.8,81.0 L482.7,82.9 L483.7,84.9 L484.5,86.9 L485.3,89.0 L486.0,91.1 L486.5,93.3Z" fill="#a8e64a"/><text class="num" filter="url(#rn)" transform="translate(0,95.9) skewX(-3.5) translate(0,-95.9)"><tspan x="396.0" y="117.8" textLength="25.85" lengthAdjust="spacingAndGlyphs" style="font-family:'DejaVu Sans Condensed','DejaVu Sans','Liberation Sans',sans-serif;font-size:59.9px;stroke-width:2.4px;">0</tspan><tspan x="423.5" y="118.6" textLength="28.73" lengthAdjust="spacingAndGlyphs" style="font-family:'DejaVu Sans Condensed','DejaVu Sans','Liberation Sans',sans-serif;font-size:61.0px;stroke-width:2.4px;">2</tspan></text>
<path d="M698.2,96.1 L698.0,98.6 L697.8,101.1 L697.5,103.6 L697.1,106.1 L696.6,108.6 L696.1,111.1 L695.5,113.5 L694.8,116.0 L694.1,118.4 L693.3,120.7 L692.4,123.1 L691.4,125.4 L690.4,127.7 L689.3,130.0 L688.1,132.2 L686.8,134.4 L685.5,136.5 L684.1,138.6 L682.6,140.7 L681.0,142.7 L679.4,144.6 L677.7,146.5 L676.0,148.3 L674.2,150.1 L672.3,151.8 L670.3,153.5 L668.3,155.0 L666.3,156.6 L664.2,158.0 L662.0,159.3 L659.8,160.6 L657.6,161.8 L655.3,163.0 L652.9,164.0 L650.6,164.9 L648.2,165.8 L645.7,166.6 L643.3,167.3 L640.8,167.9 L638.3,168.4 L635.7,168.8 L633.2,169.1 L630.6,169.4 L628.1,169.5 L625.5,169.6 L622.9,169.5 L620.4,169.4 L617.8,169.1 L615.3,168.8 L612.7,168.4 L610.2,167.9 L607.7,167.3 L605.3,166.6 L602.8,165.8 L600.4,164.9 L598.1,164.0 L595.7,163.0 L593.4,161.8 L591.2,160.6 L589.0,159.3 L586.8,158.0 L584.7,156.6 L582.7,155.0 L580.7,153.5 L578.7,151.8 L576.8,150.1 L575.0,148.3 L573.3,146.5 L571.6,144.6 L570.0,142.7 L568.4,140.7 L566.9,138.6 L565.5,136.5 L564.2,134.4 L563.0,132.2 L561.8,129.9 L560.7,127.7 L559.7,125.4 L558.7,123.1 L557.8,120.7 L557.1,118.3 L556.4,115.9 L555.7,113.5 L555.2,111.0 L554.7,108.5 L554.4,106.1 L554.1,103.6 L553.9,101.1 L553.7,98.6 L553.7,96.1 L553.7,93.6 L553.9,91.1 L554.1,88.6 L554.4,86.1 L554.7,83.6 L555.2,81.1 L555.7,78.7 L556.4,76.2 L557.1,73.8 L557.8,71.4 L558.7,69.1 L559.7,66.8 L560.7,64.5 L561.8,62.2 L563.0,60.0 L564.2,57.8 L565.5,55.6 L566.9,53.5 L568.4,51.5 L570.0,49.5 L571.6,47.5 L573.3,45.6 L575.0,43.8 L576.8,42.0 L578.7,40.3 L580.7,38.7 L582.7,37.1 L584.7,35.6 L586.8,34.2 L589.0,32.8 L591.2,31.5 L593.4,30.3 L595.7,29.2 L598.1,28.1 L600.4,27.2 L602.8,26.3 L605.3,25.5 L607.7,24.8 L610.2,24.2 L612.7,23.7 L615.3,23.3 L617.8,22.9 L620.4,22.7 L622.9,22.5 L625.5,22.4 L628.1,22.4 L630.6,22.5 L633.2,22.7 L635.8,23.0 L638.3,23.4 L640.9,23.8 L643.4,24.3 L645.9,24.9 L648.4,25.6 L650.9,26.4 L653.3,27.2 L655.7,28.1 L658.1,29.2 L660.5,30.2 L662.8,31.4 L665.1,32.7 L667.4,34.0 L669.6,35.4 L671.7,36.9 L673.8,38.5 L675.9,40.1 L677.8,41.9 L679.7,43.7 L681.5,45.6 L683.3,47.6 L684.9,49.6 L686.5,51.8 L687.9,54.0 L689.3,56.2 L690.6,58.5 L691.7,60.9 L692.8,63.2 L693.8,65.7 L694.6,68.1 L695.4,70.6 L696.1,73.1 L696.6,75.7 L697.1,78.2 L697.5,80.8 L697.8,83.3 L698.1,85.9 L698.2,88.4 L698.3,91.0 L698.3,93.5Z"/><path d="M689.4,95.5 L689.5,97.7 L689.4,99.9 L689.2,102.1 L689.0,104.3 L688.6,106.5 L688.2,108.7 L687.7,110.9 L687.1,113.0 L686.4,115.1 L685.7,117.2 L684.9,119.2 L684.0,121.3 L683.0,123.3 L682.0,125.2 L680.9,127.1 L679.8,129.0 L678.5,130.9 L677.2,132.7 L675.9,134.4 L674.5,136.1 L673.0,137.7 L671.5,139.3 L669.9,140.9 L668.3,142.4 L666.6,143.8 L664.9,145.1 L663.1,146.4 L661.3,147.7 L659.4,148.9 L657.5,150.0 L655.6,151.0 L653.7,152.0 L651.7,152.9 L649.6,153.7 L647.6,154.5 L645.5,155.2 L643.4,155.8 L641.3,156.4 L639.1,156.9 L637.0,157.3 L634.8,157.6 L632.7,157.9 L630.5,158.1 L628.3,158.2 L626.1,158.2 L623.9,158.2 L621.7,158.1 L619.5,157.9 L617.4,157.6 L615.2,157.3 L613.1,156.9 L610.9,156.4 L608.8,155.8 L606.7,155.2 L604.6,154.5 L602.6,153.7 L600.5,152.9 L598.5,152.0 L596.6,151.0 L594.7,150.0 L592.8,148.9 L590.9,147.7 L589.1,146.4 L587.3,145.1 L585.6,143.8 L583.9,142.4 L582.3,140.9 L580.7,139.3 L579.2,137.7 L577.7,136.1 L576.3,134.4 L575.0,132.7 L573.7,130.9 L572.4,129.0 L571.3,127.1 L570.2,125.2 L569.2,123.3 L568.2,121.3 L567.3,119.2 L566.5,117.2 L565.8,115.1 L565.1,113.0 L564.5,110.9 L564.0,108.7 L563.6,106.5 L563.2,104.3 L563.0,102.1 L562.8,99.9 L562.6,97.7 L562.6,95.5 L562.6,93.3 L562.8,91.1 L563.0,88.9 L563.2,86.7 L563.6,84.5 L564.0,82.3 L564.5,80.1 L565.1,78.0 L565.8,75.9 L566.5,73.8 L567.3,71.8 L568.2,69.7 L569.2,67.7 L570.2,65.8 L571.3,63.9 L572.4,62.0 L573.7,60.1 L575.0,58.3 L576.3,56.6 L577.7,54.9 L579.2,53.3 L580.7,51.7 L582.3,50.1 L583.9,48.6 L585.6,47.2 L587.3,45.9 L589.1,44.6 L590.9,43.3 L592.8,42.1 L594.7,41.0 L596.6,40.0 L598.5,39.0 L600.5,38.1 L602.6,37.3 L604.6,36.5 L606.7,35.8 L608.8,35.2 L610.9,34.6 L613.1,34.1 L615.2,33.7 L617.4,33.4 L619.5,33.1 L621.7,32.9 L623.9,32.8 L626.1,32.8 L628.3,32.8 L630.5,32.9 L632.7,33.1 L634.8,33.4 L637.0,33.7 L639.1,34.1 L641.3,34.6 L643.4,35.2 L645.5,35.8 L647.6,36.5 L649.6,37.3 L651.7,38.1 L653.6,39.1 L655.4,40.3 L657.2,41.7 L658.8,43.2 L660.3,44.7 L661.8,46.3 L663.2,48.0 L664.6,49.7 L665.8,51.4 L667.1,53.1 L668.3,54.8 L669.4,56.5 L670.5,58.2 L671.7,59.9 L672.7,61.6 L673.8,63.3 L674.9,65.0 L676.0,66.7 L677.0,68.4 L678.1,70.1 L679.1,71.9 L680.2,73.6 L681.2,75.4 L682.3,77.3 L683.3,79.1 L684.3,81.0 L685.2,82.9 L686.2,84.9 L687.0,86.9 L687.8,89.0 L688.5,91.1 L689.0,93.3Z" fill="#ffd520"/><text class="num" filter="url(#rn)" transform="translate(0,95.8) skewX(-3.5) translate(0,-95.8)"><tspan x="594.9" y="117.8" textLength="25.74" lengthAdjust="spacingAndGlyphs" style="font-family:'DejaVu Sans Condensed','DejaVu Sans','Liberation Sans',sans-serif;font-size:59.9px;stroke-width:2.4px;">0</tspan><tspan x="621.1" y="117.7" textLength="32.21" lengthAdjust="spacingAndGlyphs" style="font-family:'DejaVu Sans Condensed','DejaVu Sans','Liberation Sans',sans-serif;font-size:60.8px;stroke-width:2.4px;">3</tspan></text>
<path d="M392.1,551.9 L391.9,554.4 L391.7,556.9 L391.4,559.4 L391.0,561.9 L390.5,564.4 L390.0,566.9 L389.4,569.3 L388.7,571.8 L388.0,574.2 L387.2,576.5 L386.3,578.9 L385.3,581.2 L384.3,583.5 L383.2,585.8 L382.0,588.0 L380.7,590.2 L379.4,592.3 L378.0,594.4 L376.5,596.5 L374.9,598.5 L373.3,600.4 L371.6,602.3 L369.9,604.1 L368.1,605.9 L366.2,607.6 L364.2,609.3 L362.2,610.8 L360.2,612.4 L358.1,613.8 L355.9,615.1 L353.7,616.4 L351.5,617.6 L349.2,618.8 L346.8,619.8 L344.5,620.7 L342.1,621.6 L339.6,622.4 L337.2,623.1 L334.7,623.7 L332.2,624.2 L329.6,624.6 L327.1,624.9 L324.5,625.2 L322.0,625.3 L319.4,625.4 L316.8,625.3 L314.3,625.2 L311.7,624.9 L309.2,624.6 L306.6,624.2 L304.1,623.7 L301.6,623.1 L299.2,622.4 L296.7,621.6 L294.3,620.7 L292.0,619.8 L289.6,618.8 L287.3,617.6 L285.1,616.4 L282.9,615.1 L280.7,613.8 L278.6,612.4 L276.6,610.8 L274.6,609.3 L272.6,607.6 L270.7,605.9 L268.9,604.1 L267.2,602.3 L265.5,600.4 L263.9,598.5 L262.3,596.5 L260.8,594.4 L259.4,592.3 L258.1,590.2 L256.9,588.0 L255.7,585.7 L254.6,583.5 L253.6,581.2 L252.6,578.9 L251.7,576.5 L251.0,574.1 L250.3,571.7 L249.6,569.3 L249.1,566.8 L248.6,564.3 L248.3,561.9 L248.0,559.4 L247.8,556.9 L247.6,554.4 L247.6,551.9 L247.6,549.4 L247.8,546.9 L248.0,544.4 L248.3,541.9 L248.6,539.4 L249.1,536.9 L249.6,534.5 L250.3,532.0 L251.0,529.6 L251.7,527.2 L252.6,524.9 L253.6,522.6 L254.6,520.3 L255.7,518.0 L256.9,515.8 L258.1,513.6 L259.4,511.4 L260.8,509.3 L262.3,507.3 L263.9,505.3 L265.5,503.3 L267.2,501.4 L268.9,499.6 L270.7,497.8 L272.6,496.1 L274.6,494.5 L276.6,492.9 L278.6,491.4 L280.7,490.0 L282.9,488.6 L285.1,487.3 L287.3,486.1 L289.6,485.0 L292.0,483.9 L294.3,483.0 L296.7,482.1 L299.2,481.3 L301.6,480.6 L304.1,480.0 L306.6,479.5 L309.2,479.1 L311.7,478.7 L314.3,478.5 L316.8,478.3 L319.4,478.2 L322.0,478.2 L324.5,478.3 L327.1,478.5 L329.7,478.8 L332.2,479.2 L334.8,479.6 L337.3,480.1 L339.8,480.7 L342.3,481.4 L344.8,482.2 L347.2,483.0 L349.6,483.9 L352.0,485.0 L354.4,486.0 L356.7,487.2 L359.0,488.5 L361.3,489.8 L363.5,491.2 L365.6,492.7 L367.7,494.3 L369.8,495.9 L371.7,497.7 L373.6,499.5 L375.4,501.4 L377.2,503.4 L378.8,505.4 L380.4,507.6 L381.8,509.8 L383.2,512.0 L384.5,514.3 L385.6,516.7 L386.7,519.0 L387.7,521.5 L388.5,523.9 L389.3,526.4 L390.0,528.9 L390.5,531.5 L391.0,534.0 L391.4,536.6 L391.7,539.1 L392.0,541.7 L392.1,544.2 L392.2,546.8 L392.2,549.3Z"/><path d="M383.3,551.3 L383.4,553.5 L383.3,555.7 L383.1,557.9 L382.9,560.1 L382.5,562.3 L382.1,564.5 L381.6,566.7 L381.0,568.8 L380.3,570.9 L379.6,573.0 L378.8,575.0 L377.9,577.1 L376.9,579.1 L375.9,581.0 L374.8,582.9 L373.7,584.8 L372.4,586.7 L371.1,588.5 L369.8,590.2 L368.4,591.9 L366.9,593.5 L365.4,595.1 L363.8,596.7 L362.2,598.2 L360.5,599.6 L358.8,600.9 L357.0,602.2 L355.2,603.5 L353.3,604.7 L351.4,605.8 L349.5,606.8 L347.6,607.8 L345.6,608.7 L343.5,609.5 L341.5,610.3 L339.4,611.0 L337.3,611.6 L335.2,612.2 L333.0,612.7 L330.9,613.1 L328.7,613.4 L326.6,613.7 L324.4,613.9 L322.2,614.0 L320.0,614.0 L317.8,614.0 L315.6,613.9 L313.4,613.7 L311.3,613.4 L309.1,613.1 L307.0,612.7 L304.8,612.2 L302.7,611.6 L300.6,611.0 L298.5,610.3 L296.5,609.5 L294.4,608.7 L292.4,607.8 L290.5,606.8 L288.6,605.8 L286.7,604.7 L284.8,603.5 L283.0,602.2 L281.2,600.9 L279.5,599.6 L277.8,598.2 L276.2,596.7 L274.6,595.1 L273.1,593.5 L271.6,591.9 L270.2,590.2 L268.9,588.5 L267.6,586.7 L266.3,584.8 L265.2,582.9 L264.1,581.0 L263.1,579.1 L262.1,577.1 L261.2,575.0 L260.4,573.0 L259.7,570.9 L259.0,568.8 L258.4,566.7 L257.9,564.5 L257.5,562.3 L257.1,560.1 L256.9,557.9 L256.7,555.7 L256.5,553.5 L256.5,551.3 L256.5,549.1 L256.7,546.9 L256.9,544.7 L257.1,542.5 L257.5,540.3 L257.9,538.1 L258.4,535.9 L259.0,533.8 L259.7,531.7 L260.4,529.6 L261.2,527.6 L262.1,525.5 L263.1,523.5 L264.1,521.6 L265.2,519.7 L266.3,517.8 L267.6,515.9 L268.9,514.1 L270.2,512.4 L271.6,510.7 L273.1,509.1 L274.6,507.5 L276.2,505.9 L277.8,504.4 L279.5,503.0 L281.2,501.7 L283.0,500.4 L284.8,499.1 L286.7,497.9 L288.6,496.8 L290.5,495.8 L292.4,494.8 L294.4,493.9 L296.5,493.1 L298.5,492.3 L300.6,491.6 L302.7,491.0 L304.8,490.4 L307.0,489.9 L309.1,489.5 L311.3,489.2 L313.4,488.9 L315.6,488.7 L317.8,488.6 L320.0,488.6 L322.2,488.6 L324.4,488.7 L326.6,488.9 L328.7,489.2 L330.9,489.5 L333.0,489.9 L335.2,490.4 L337.3,491.0 L339.4,491.6 L341.5,492.3 L343.5,493.1 L345.6,493.9 L347.5,494.9 L349.3,496.1 L351.1,497.5 L352.7,499.0 L354.2,500.5 L355.7,502.1 L357.1,503.8 L358.5,505.5 L359.7,507.2 L361.0,508.9 L362.2,510.6 L363.3,512.3 L364.4,514.0 L365.6,515.7 L366.6,517.4 L367.7,519.1 L368.8,520.8 L369.9,522.5 L370.9,524.2 L372.0,525.9 L373.0,527.7 L374.1,529.4 L375.1,531.2 L376.2,533.1 L377.2,534.9 L378.2,536.8 L379.1,538.7 L380.1,540.7 L380.9,542.7 L381.7,544.8 L382.4,546.9 L382.9,549.1Z" fill="#29abe2"/><text class="num" filter="url(#rn)" transform="translate(0,553.8) skewX(-3.5) translate(0,-553.8)"><tspan x="291.3" y="576.9" textLength="22.71" lengthAdjust="spacingAndGlyphs" style="font-family:'DejaVu Sans Condensed','DejaVu Sans','Liberation Sans',sans-serif;font-size:63.6px;stroke-width:2.4px;">1</tspan><tspan x="316.1" y="575.7" textLength="24.35" lengthAdjust="spacingAndGlyphs" style="font-family:'DejaVu Sans Condensed','DejaVu Sans','Liberation Sans',sans-serif;font-size:59.8px;stroke-width:2.4px;">0</tspan></text>
<path d="M998.7,552.1 L998.6,554.7 L998.3,557.2 L998.0,559.7 L997.6,562.2 L997.2,564.7 L996.7,567.1 L996.1,569.6 L995.4,572.0 L994.7,574.4 L993.8,576.8 L992.9,579.1 L992.0,581.5 L990.9,583.8 L989.8,586.0 L988.6,588.2 L987.4,590.4 L986.0,592.6 L984.6,594.7 L983.1,596.7 L981.6,598.7 L980.0,600.7 L978.3,602.6 L976.5,604.4 L974.7,606.2 L972.8,607.9 L970.9,609.5 L968.9,611.1 L966.8,612.6 L964.7,614.0 L962.6,615.4 L960.4,616.7 L958.1,617.9 L955.8,619.0 L953.5,620.0 L951.1,621.0 L948.7,621.9 L946.3,622.6 L943.8,623.3 L941.3,623.9 L938.8,624.5 L936.3,624.9 L933.7,625.2 L931.2,625.4 L928.6,625.6 L926.0,625.6 L923.5,625.6 L920.9,625.4 L918.4,625.2 L915.8,624.9 L913.3,624.5 L910.8,623.9 L908.3,623.3 L905.8,622.6 L903.4,621.9 L901.0,621.0 L898.6,620.0 L896.3,619.0 L894.0,617.9 L891.7,616.7 L889.5,615.4 L887.4,614.0 L885.3,612.6 L883.2,611.1 L881.2,609.5 L879.3,607.9 L877.4,606.2 L875.6,604.4 L873.8,602.6 L872.1,600.7 L870.5,598.7 L869.0,596.7 L867.5,594.7 L866.1,592.6 L864.8,590.4 L863.5,588.2 L862.3,586.0 L861.2,583.7 L860.2,581.4 L859.3,579.1 L858.4,576.7 L857.6,574.4 L856.9,571.9 L856.3,569.5 L855.7,567.1 L855.3,564.6 L854.9,562.1 L854.6,559.6 L854.4,557.1 L854.3,554.6 L854.2,552.1 L854.3,549.6 L854.4,547.1 L854.6,544.6 L854.9,542.1 L855.3,539.6 L855.7,537.2 L856.3,534.7 L856.9,532.3 L857.6,529.9 L858.4,527.5 L859.3,525.1 L860.2,522.8 L861.2,520.5 L862.3,518.2 L863.5,516.0 L864.8,513.8 L866.1,511.7 L867.5,509.6 L869.0,507.5 L870.5,505.5 L872.1,503.6 L873.8,501.7 L875.6,499.8 L877.4,498.1 L879.3,496.4 L881.2,494.7 L883.2,493.1 L885.3,491.6 L887.4,490.2 L889.5,488.8 L891.7,487.6 L894.0,486.4 L896.3,485.2 L898.6,484.2 L901.0,483.2 L903.4,482.4 L905.8,481.6 L908.3,480.9 L910.8,480.3 L913.3,479.7 L915.8,479.3 L918.4,479.0 L920.9,478.7 L923.5,478.6 L926.0,478.5 L928.6,478.5 L931.2,478.6 L933.8,478.8 L936.3,479.0 L938.9,479.4 L941.4,479.8 L943.9,480.4 L946.5,481.0 L948.9,481.7 L951.4,482.4 L953.9,483.3 L956.3,484.2 L958.7,485.2 L961.1,486.3 L963.4,487.5 L965.7,488.7 L967.9,490.0 L970.1,491.5 L972.3,493.0 L974.4,494.5 L976.4,496.2 L978.4,497.9 L980.3,499.8 L982.1,501.7 L983.8,503.6 L985.5,505.7 L987.0,507.8 L988.5,510.0 L989.9,512.2 L991.1,514.6 L992.3,516.9 L993.4,519.3 L994.3,521.7 L995.2,524.2 L995.9,526.7 L996.6,529.2 L997.2,531.7 L997.7,534.3 L998.1,536.8 L998.4,539.4 L998.6,541.9 L998.8,544.5 L998.8,547.0 L998.8,549.6Z"/><path d="M989.9,551.5 L990.1,553.8 L990.0,556.0 L989.8,558.2 L989.5,560.4 L989.2,562.6 L988.7,564.7 L988.2,566.9 L987.6,569.0 L987.0,571.1 L986.2,573.2 L985.4,575.3 L984.5,577.3 L983.6,579.3 L982.6,581.3 L981.5,583.2 L980.3,585.1 L979.1,586.9 L977.8,588.7 L976.4,590.5 L975.0,592.2 L973.6,593.8 L972.0,595.4 L970.5,596.9 L968.8,598.4 L967.2,599.8 L965.4,601.2 L963.7,602.5 L961.8,603.7 L960.0,604.9 L958.1,606.0 L956.2,607.1 L954.2,608.0 L952.2,608.9 L950.2,609.8 L948.1,610.6 L946.0,611.3 L943.9,611.9 L941.8,612.4 L939.7,612.9 L937.5,613.3 L935.4,613.7 L933.2,613.9 L931.0,614.1 L928.8,614.2 L926.6,614.2 L924.5,614.2 L922.3,614.1 L920.1,613.9 L917.9,613.7 L915.8,613.3 L913.6,612.9 L911.5,612.4 L909.4,611.9 L907.3,611.3 L905.2,610.6 L903.1,609.8 L901.1,608.9 L899.1,608.0 L897.1,607.1 L895.2,606.0 L893.3,604.9 L891.5,603.7 L889.6,602.5 L887.9,601.2 L886.1,599.8 L884.5,598.4 L882.8,596.9 L881.3,595.4 L879.7,593.8 L878.3,592.2 L876.9,590.5 L875.5,588.7 L874.2,586.9 L873.0,585.1 L871.8,583.2 L870.7,581.3 L869.7,579.3 L868.8,577.3 L867.9,575.3 L867.1,573.2 L866.3,571.1 L865.7,569.0 L865.1,566.9 L864.6,564.7 L864.1,562.6 L863.8,560.4 L863.5,558.2 L863.3,556.0 L863.2,553.8 L863.1,551.5 L863.2,549.3 L863.3,547.1 L863.5,544.9 L863.8,542.7 L864.1,540.5 L864.6,538.4 L865.1,536.2 L865.7,534.1 L866.3,532.0 L867.1,529.9 L867.9,527.8 L868.8,525.8 L869.7,523.8 L870.7,521.8 L871.8,519.9 L873.0,518.0 L874.2,516.2 L875.5,514.4 L876.9,512.6 L878.3,510.9 L879.7,509.3 L881.3,507.7 L882.8,506.2 L884.5,504.7 L886.1,503.3 L887.9,501.9 L889.6,500.6 L891.5,499.4 L893.3,498.2 L895.2,497.1 L897.1,496.0 L899.1,495.1 L901.1,494.2 L903.1,493.3 L905.2,492.5 L907.3,491.8 L909.4,491.2 L911.5,490.7 L913.6,490.2 L915.8,489.8 L917.9,489.4 L920.1,489.2 L922.3,489.0 L924.5,488.9 L926.6,488.8 L928.8,488.9 L931.0,489.0 L933.2,489.2 L935.4,489.4 L937.5,489.8 L939.7,490.2 L941.8,490.7 L943.9,491.2 L946.0,491.8 L948.1,492.5 L950.2,493.3 L952.2,494.2 L954.1,495.2 L956.0,496.4 L957.7,497.8 L959.3,499.2 L960.9,500.8 L962.4,502.4 L963.8,504.0 L965.1,505.7 L966.4,507.4 L967.6,509.1 L968.8,510.8 L970.0,512.5 L971.1,514.3 L972.2,516.0 L973.3,517.7 L974.4,519.4 L975.4,521.1 L976.5,522.8 L977.6,524.5 L978.6,526.2 L979.7,527.9 L980.7,529.7 L981.8,531.5 L982.8,533.3 L983.8,535.2 L984.8,537.0 L985.8,539.0 L986.7,541.0 L987.6,543.0 L988.3,545.1 L989.0,547.2 L989.5,549.4Z" fill="#29abe2"/><text class="num" filter="url(#rn)" transform="translate(0,553.9) skewX(-3.5) translate(0,-553.9)"><tspan x="896.3" y="576.9" textLength="29.98" lengthAdjust="spacingAndGlyphs" style="font-family:'DejaVu Sans Condensed','DejaVu Sans','Liberation Sans',sans-serif;font-size:63.4px;stroke-width:2.4px;">4</tspan><tspan x="927.9" y="575.7" textLength="25.05" lengthAdjust="spacingAndGlyphs" style="font-family:'DejaVu Sans Condensed','DejaVu Sans','Liberation Sans',sans-serif;font-size:59.8px;stroke-width:2.4px;">0</tspan></text>
<path d="M594.7,705.3 L594.6,707.9 L594.3,710.4 L594.0,712.9 L593.6,715.4 L593.2,717.9 L592.7,720.3 L592.1,722.8 L591.4,725.2 L590.7,727.6 L589.8,730.0 L588.9,732.3 L588.0,734.7 L586.9,737.0 L585.8,739.2 L584.6,741.4 L583.4,743.6 L582.0,745.8 L580.6,747.9 L579.1,749.9 L577.6,751.9 L576.0,753.9 L574.3,755.8 L572.5,757.6 L570.7,759.4 L568.8,761.1 L566.9,762.7 L564.9,764.3 L562.8,765.8 L560.7,767.2 L558.6,768.6 L556.4,769.9 L554.1,771.1 L551.8,772.2 L549.5,773.2 L547.1,774.2 L544.7,775.1 L542.3,775.8 L539.8,776.5 L537.3,777.1 L534.8,777.7 L532.3,778.1 L529.7,778.4 L527.2,778.6 L524.6,778.8 L522.0,778.8 L519.5,778.8 L516.9,778.6 L514.4,778.4 L511.8,778.1 L509.3,777.7 L506.8,777.1 L504.3,776.5 L501.8,775.8 L499.4,775.1 L497.0,774.2 L494.6,773.2 L492.3,772.2 L490.0,771.1 L487.7,769.9 L485.5,768.6 L483.4,767.2 L481.3,765.8 L479.2,764.3 L477.2,762.7 L475.3,761.1 L473.4,759.4 L471.6,757.6 L469.8,755.8 L468.1,753.9 L466.5,751.9 L465.0,749.9 L463.5,747.9 L462.1,745.8 L460.8,743.6 L459.5,741.4 L458.3,739.2 L457.2,736.9 L456.2,734.6 L455.3,732.3 L454.4,729.9 L453.6,727.6 L452.9,725.1 L452.3,722.7 L451.7,720.3 L451.3,717.8 L450.9,715.3 L450.6,712.8 L450.4,710.3 L450.3,707.8 L450.2,705.3 L450.3,702.8 L450.4,700.3 L450.6,697.8 L450.9,695.3 L451.3,692.8 L451.7,690.4 L452.3,687.9 L452.9,685.5 L453.6,683.1 L454.4,680.7 L455.3,678.3 L456.2,676.0 L457.2,673.7 L458.3,671.4 L459.5,669.2 L460.8,667.0 L462.1,664.9 L463.5,662.8 L465.0,660.7 L466.5,658.7 L468.1,656.8 L469.8,654.9 L471.6,653.0 L473.4,651.3 L475.3,649.6 L477.2,647.9 L479.2,646.3 L481.3,644.8 L483.4,643.4 L485.5,642.0 L487.7,640.8 L490.0,639.6 L492.3,638.4 L494.6,637.4 L497.0,636.4 L499.4,635.6 L501.8,634.8 L504.3,634.1 L506.8,633.5 L509.3,632.9 L511.8,632.5 L514.4,632.2 L516.9,631.9 L519.5,631.8 L522.0,631.7 L524.6,631.7 L527.2,631.8 L529.8,632.0 L532.3,632.2 L534.9,632.6 L537.4,633.0 L539.9,633.6 L542.5,634.2 L544.9,634.9 L547.4,635.6 L549.9,636.5 L552.3,637.4 L554.7,638.4 L557.1,639.5 L559.4,640.7 L561.7,641.9 L563.9,643.2 L566.1,644.7 L568.3,646.2 L570.4,647.7 L572.4,649.4 L574.4,651.1 L576.3,653.0 L578.1,654.9 L579.8,656.8 L581.5,658.9 L583.0,661.0 L584.5,663.2 L585.9,665.4 L587.1,667.8 L588.3,670.1 L589.4,672.5 L590.3,674.9 L591.2,677.4 L591.9,679.9 L592.6,682.4 L593.2,684.9 L593.7,687.5 L594.1,690.0 L594.4,692.6 L594.6,695.1 L594.8,697.7 L594.8,700.2 L594.8,702.8Z"/><path d="M585.9,704.8 L586.1,707.0 L586.0,709.2 L585.8,711.4 L585.5,713.6 L585.2,715.8 L584.7,717.9 L584.2,720.1 L583.6,722.2 L583.0,724.3 L582.2,726.4 L581.4,728.5 L580.5,730.5 L579.6,732.5 L578.6,734.5 L577.5,736.4 L576.3,738.3 L575.1,740.1 L573.8,741.9 L572.4,743.7 L571.0,745.4 L569.6,747.0 L568.0,748.6 L566.5,750.1 L564.8,751.6 L563.2,753.0 L561.4,754.4 L559.7,755.7 L557.8,756.9 L556.0,758.1 L554.1,759.2 L552.2,760.3 L550.2,761.2 L548.2,762.1 L546.2,763.0 L544.1,763.8 L542.0,764.5 L539.9,765.1 L537.8,765.6 L535.7,766.1 L533.5,766.5 L531.4,766.9 L529.2,767.1 L527.0,767.3 L524.8,767.4 L522.6,767.5 L520.5,767.4 L518.3,767.3 L516.1,767.1 L513.9,766.9 L511.8,766.5 L509.6,766.1 L507.5,765.6 L505.4,765.1 L503.3,764.5 L501.2,763.8 L499.1,763.0 L497.1,762.1 L495.1,761.2 L493.1,760.3 L491.2,759.2 L489.3,758.1 L487.5,756.9 L485.6,755.7 L483.9,754.4 L482.1,753.0 L480.5,751.6 L478.8,750.1 L477.3,748.6 L475.7,747.0 L474.3,745.4 L472.9,743.7 L471.5,741.9 L470.2,740.1 L469.0,738.3 L467.8,736.4 L466.7,734.5 L465.7,732.5 L464.8,730.5 L463.9,728.5 L463.1,726.4 L462.3,724.3 L461.7,722.2 L461.1,720.1 L460.6,717.9 L460.1,715.8 L459.8,713.6 L459.5,711.4 L459.3,709.2 L459.2,707.0 L459.1,704.8 L459.2,702.5 L459.3,700.3 L459.5,698.1 L459.8,695.9 L460.1,693.7 L460.6,691.6 L461.1,689.4 L461.7,687.3 L462.3,685.2 L463.1,683.1 L463.9,681.0 L464.8,679.0 L465.7,677.0 L466.7,675.0 L467.8,673.1 L469.0,671.2 L470.2,669.4 L471.5,667.6 L472.9,665.8 L474.3,664.1 L475.7,662.5 L477.3,660.9 L478.8,659.4 L480.5,657.9 L482.1,656.5 L483.9,655.1 L485.6,653.8 L487.5,652.6 L489.3,651.4 L491.2,650.3 L493.1,649.2 L495.1,648.3 L497.1,647.4 L499.1,646.5 L501.2,645.7 L503.3,645.0 L505.4,644.4 L507.5,643.9 L509.6,643.4 L511.8,643.0 L513.9,642.6 L516.1,642.4 L518.3,642.2 L520.5,642.1 L522.6,642.0 L524.8,642.1 L527.0,642.2 L529.2,642.4 L531.4,642.6 L533.5,643.0 L535.7,643.4 L537.8,643.9 L539.9,644.4 L542.0,645.0 L544.1,645.7 L546.2,646.5 L548.2,647.4 L550.1,648.4 L552.0,649.6 L553.7,651.0 L555.3,652.4 L556.9,654.0 L558.4,655.6 L559.8,657.2 L561.1,658.9 L562.4,660.6 L563.6,662.3 L564.8,664.0 L566.0,665.7 L567.1,667.5 L568.2,669.2 L569.3,670.9 L570.4,672.6 L571.4,674.3 L572.5,676.0 L573.6,677.7 L574.6,679.4 L575.7,681.1 L576.7,682.9 L577.8,684.7 L578.8,686.5 L579.8,688.4 L580.8,690.2 L581.8,692.2 L582.7,694.2 L583.6,696.2 L584.3,698.3 L585.0,700.4 L585.5,702.6Z" fill="#a8e64a"/><text class="num" filter="url(#rn)" transform="translate(0,708.0) skewX(-3.5) translate(0,-708.0)"><tspan x="494.4" y="730.9" textLength="28.85" lengthAdjust="spacingAndGlyphs" style="font-family:'DejaVu Sans Condensed','DejaVu Sans','Liberation Sans',sans-serif;font-size:61.4px;stroke-width:2.4px;">2</tspan><tspan x="522.0" y="730.0" textLength="24.79" lengthAdjust="spacingAndGlyphs" style="font-family:'DejaVu Sans Condensed','DejaVu Sans','Liberation Sans',sans-serif;font-size:60.7px;stroke-width:2.4px;">0</tspan></text>
<path d="M1201.1,705.3 L1200.9,707.8 L1200.7,710.3 L1200.4,712.8 L1200.0,715.3 L1199.5,717.8 L1199.0,720.3 L1198.4,722.7 L1197.7,725.2 L1197.0,727.6 L1196.2,729.9 L1195.3,732.3 L1194.3,734.6 L1193.3,736.9 L1192.2,739.2 L1191.0,741.4 L1189.7,743.6 L1188.4,745.7 L1187.0,747.8 L1185.5,749.9 L1183.9,751.9 L1182.3,753.8 L1180.6,755.7 L1178.9,757.5 L1177.1,759.3 L1175.2,761.0 L1173.2,762.7 L1171.2,764.2 L1169.2,765.8 L1167.1,767.2 L1164.9,768.5 L1162.7,769.8 L1160.5,771.0 L1158.2,772.2 L1155.8,773.2 L1153.5,774.1 L1151.1,775.0 L1148.6,775.8 L1146.2,776.5 L1143.7,777.1 L1141.2,777.6 L1138.6,778.0 L1136.1,778.3 L1133.5,778.6 L1131.0,778.7 L1128.4,778.8 L1125.8,778.7 L1123.3,778.6 L1120.7,778.3 L1118.2,778.0 L1115.6,777.6 L1113.1,777.1 L1110.6,776.5 L1108.2,775.8 L1105.7,775.0 L1103.3,774.1 L1101.0,773.2 L1098.6,772.2 L1096.3,771.0 L1094.1,769.8 L1091.9,768.5 L1089.7,767.2 L1087.6,765.8 L1085.6,764.2 L1083.6,762.7 L1081.6,761.0 L1079.7,759.3 L1077.9,757.5 L1076.2,755.7 L1074.5,753.8 L1072.9,751.9 L1071.3,749.9 L1069.8,747.8 L1068.4,745.7 L1067.1,743.6 L1065.9,741.4 L1064.7,739.1 L1063.6,736.9 L1062.6,734.6 L1061.6,732.3 L1060.7,729.9 L1060.0,727.5 L1059.3,725.1 L1058.6,722.7 L1058.1,720.2 L1057.6,717.7 L1057.3,715.3 L1057.0,712.8 L1056.8,710.3 L1056.6,707.8 L1056.6,705.3 L1056.6,702.8 L1056.8,700.3 L1057.0,697.8 L1057.3,695.3 L1057.6,692.8 L1058.1,690.3 L1058.6,687.9 L1059.3,685.4 L1060.0,683.0 L1060.7,680.6 L1061.6,678.3 L1062.6,676.0 L1063.6,673.7 L1064.7,671.4 L1065.9,669.2 L1067.1,667.0 L1068.4,664.8 L1069.8,662.7 L1071.3,660.7 L1072.9,658.7 L1074.5,656.7 L1076.2,654.8 L1077.9,653.0 L1079.7,651.2 L1081.6,649.5 L1083.6,647.9 L1085.6,646.3 L1087.6,644.8 L1089.7,643.4 L1091.9,642.0 L1094.1,640.7 L1096.3,639.5 L1098.6,638.4 L1101.0,637.3 L1103.3,636.4 L1105.7,635.5 L1108.2,634.7 L1110.6,634.0 L1113.1,633.4 L1115.6,632.9 L1118.2,632.5 L1120.7,632.1 L1123.3,631.9 L1125.8,631.7 L1128.4,631.6 L1131.0,631.6 L1133.5,631.7 L1136.1,631.9 L1138.7,632.2 L1141.2,632.6 L1143.8,633.0 L1146.3,633.5 L1148.8,634.1 L1151.3,634.8 L1153.8,635.6 L1156.2,636.4 L1158.6,637.3 L1161.0,638.4 L1163.4,639.4 L1165.7,640.6 L1168.0,641.9 L1170.3,643.2 L1172.5,644.6 L1174.6,646.1 L1176.7,647.7 L1178.8,649.3 L1180.7,651.1 L1182.6,652.9 L1184.4,654.8 L1186.2,656.8 L1187.8,658.8 L1189.4,661.0 L1190.8,663.2 L1192.2,665.4 L1193.5,667.7 L1194.6,670.1 L1195.7,672.4 L1196.7,674.9 L1197.5,677.3 L1198.3,679.8 L1199.0,682.3 L1199.5,684.9 L1200.0,687.4 L1200.4,690.0 L1200.7,692.5 L1201.0,695.1 L1201.1,697.6 L1201.2,700.2 L1201.2,702.7Z"/><path d="M1192.3,704.7 L1192.4,706.9 L1192.3,709.1 L1192.1,711.3 L1191.9,713.5 L1191.5,715.7 L1191.1,717.9 L1190.6,720.1 L1190.0,722.2 L1189.3,724.3 L1188.6,726.4 L1187.8,728.4 L1186.9,730.5 L1185.9,732.5 L1184.9,734.4 L1183.8,736.3 L1182.7,738.2 L1181.4,740.1 L1180.1,741.9 L1178.8,743.6 L1177.4,745.3 L1175.9,746.9 L1174.4,748.5 L1172.8,750.1 L1171.2,751.6 L1169.5,753.0 L1167.8,754.3 L1166.0,755.6 L1164.2,756.9 L1162.3,758.1 L1160.4,759.2 L1158.5,760.2 L1156.6,761.2 L1154.6,762.1 L1152.5,762.9 L1150.5,763.7 L1148.4,764.4 L1146.3,765.0 L1144.2,765.6 L1142.0,766.1 L1139.9,766.5 L1137.7,766.8 L1135.6,767.1 L1133.4,767.3 L1131.2,767.4 L1129.0,767.4 L1126.8,767.4 L1124.6,767.3 L1122.4,767.1 L1120.3,766.8 L1118.1,766.5 L1116.0,766.1 L1113.8,765.6 L1111.7,765.0 L1109.6,764.4 L1107.5,763.7 L1105.5,762.9 L1103.4,762.1 L1101.4,761.2 L1099.5,760.2 L1097.6,759.2 L1095.7,758.1 L1093.8,756.9 L1092.0,755.6 L1090.2,754.3 L1088.5,753.0 L1086.8,751.6 L1085.2,750.1 L1083.6,748.5 L1082.1,746.9 L1080.6,745.3 L1079.2,743.6 L1077.9,741.9 L1076.6,740.1 L1075.3,738.2 L1074.2,736.3 L1073.1,734.4 L1072.1,732.5 L1071.1,730.5 L1070.2,728.4 L1069.4,726.4 L1068.7,724.3 L1068.0,722.2 L1067.4,720.1 L1066.9,717.9 L1066.5,715.7 L1066.1,713.5 L1065.9,711.3 L1065.7,709.1 L1065.5,706.9 L1065.5,704.7 L1065.5,702.5 L1065.7,700.3 L1065.9,698.1 L1066.1,695.9 L1066.5,693.7 L1066.9,691.5 L1067.4,689.3 L1068.0,687.2 L1068.7,685.1 L1069.4,683.0 L1070.2,681.0 L1071.1,678.9 L1072.1,676.9 L1073.1,675.0 L1074.2,673.1 L1075.3,671.2 L1076.6,669.3 L1077.9,667.5 L1079.2,665.8 L1080.6,664.1 L1082.1,662.5 L1083.6,660.9 L1085.2,659.3 L1086.8,657.8 L1088.5,656.4 L1090.2,655.1 L1092.0,653.8 L1093.8,652.5 L1095.7,651.3 L1097.6,650.2 L1099.5,649.2 L1101.4,648.2 L1103.4,647.3 L1105.5,646.5 L1107.5,645.7 L1109.6,645.0 L1111.7,644.4 L1113.8,643.8 L1116.0,643.3 L1118.1,642.9 L1120.3,642.6 L1122.4,642.3 L1124.6,642.1 L1126.8,642.0 L1129.0,642.0 L1131.2,642.0 L1133.4,642.1 L1135.6,642.3 L1137.7,642.6 L1139.9,642.9 L1142.0,643.3 L1144.2,643.8 L1146.3,644.4 L1148.4,645.0 L1150.5,645.7 L1152.5,646.5 L1154.6,647.3 L1156.5,648.3 L1158.3,649.5 L1160.1,650.9 L1161.7,652.4 L1163.2,653.9 L1164.7,655.5 L1166.1,657.2 L1167.5,658.9 L1168.7,660.6 L1170.0,662.3 L1171.2,664.0 L1172.3,665.7 L1173.4,667.4 L1174.6,669.1 L1175.6,670.8 L1176.7,672.5 L1177.8,674.2 L1178.9,675.9 L1179.9,677.6 L1181.0,679.3 L1182.0,681.1 L1183.1,682.8 L1184.1,684.6 L1185.2,686.5 L1186.2,688.3 L1187.2,690.2 L1188.1,692.1 L1189.1,694.1 L1189.9,696.1 L1190.7,698.2 L1191.4,700.3 L1191.9,702.5Z" fill="#a8e64a"/><text class="num" filter="url(#rn)" transform="translate(0,708.0) skewX(-3.5) translate(0,-708.0)"><tspan x="1102.0" y="730.3" textLength="28.56" lengthAdjust="spacingAndGlyphs" style="font-family:'DejaVu Sans Condensed','DejaVu Sans','Liberation Sans',sans-serif;font-size:62.4px;stroke-width:2.4px;">5</tspan><tspan x="1130.7" y="730.0" textLength="25.27" lengthAdjust="spacingAndGlyphs" style="font-family:'DejaVu Sans Condensed','DejaVu Sans','Liberation Sans',sans-serif;font-size:60.3px;stroke-width:2.4px;">0</tspan></text>
<path d="M796.4,864.0 L796.2,866.5 L796.0,869.0 L795.7,871.5 L795.3,874.0 L794.8,876.5 L794.3,879.0 L793.7,881.4 L793.0,883.9 L792.3,886.3 L791.5,888.6 L790.6,891.0 L789.6,893.3 L788.6,895.6 L787.5,897.9 L786.3,900.1 L785.0,902.3 L783.7,904.4 L782.3,906.5 L780.8,908.6 L779.2,910.6 L777.6,912.5 L775.9,914.4 L774.2,916.2 L772.4,918.0 L770.5,919.7 L768.5,921.4 L766.5,922.9 L764.5,924.5 L762.4,925.9 L760.2,927.2 L758.0,928.5 L755.8,929.7 L753.5,930.9 L751.1,931.9 L748.8,932.8 L746.4,933.7 L743.9,934.5 L741.5,935.2 L739.0,935.8 L736.5,936.3 L733.9,936.7 L731.4,937.0 L728.8,937.3 L726.3,937.4 L723.7,937.5 L721.1,937.4 L718.6,937.3 L716.0,937.0 L713.5,936.7 L710.9,936.3 L708.4,935.8 L705.9,935.2 L703.5,934.5 L701.0,933.7 L698.6,932.8 L696.3,931.9 L693.9,930.9 L691.6,929.7 L689.4,928.5 L687.2,927.2 L685.0,925.9 L682.9,924.5 L680.9,922.9 L678.9,921.4 L676.9,919.7 L675.0,918.0 L673.2,916.2 L671.5,914.4 L669.8,912.5 L668.2,910.6 L666.6,908.6 L665.1,906.5 L663.7,904.4 L662.4,902.3 L661.2,900.1 L660.0,897.8 L658.9,895.6 L657.9,893.3 L656.9,891.0 L656.0,888.6 L655.3,886.2 L654.6,883.8 L653.9,881.4 L653.4,878.9 L652.9,876.4 L652.6,874.0 L652.3,871.5 L652.1,869.0 L651.9,866.5 L651.9,864.0 L651.9,861.5 L652.1,859.0 L652.3,856.5 L652.6,854.0 L652.9,851.5 L653.4,849.0 L653.9,846.6 L654.6,844.1 L655.3,841.7 L656.0,839.3 L656.9,837.0 L657.9,834.7 L658.9,832.4 L660.0,830.1 L661.2,827.9 L662.4,825.7 L663.7,823.5 L665.1,821.4 L666.6,819.4 L668.2,817.4 L669.8,815.4 L671.5,813.5 L673.2,811.7 L675.0,809.9 L676.9,808.2 L678.9,806.6 L680.9,805.0 L682.9,803.5 L685.0,802.1 L687.2,800.7 L689.4,799.4 L691.6,798.2 L693.9,797.1 L696.3,796.0 L698.6,795.1 L701.0,794.2 L703.5,793.4 L705.9,792.7 L708.4,792.1 L710.9,791.6 L713.5,791.2 L716.0,790.8 L718.6,790.6 L721.1,790.4 L723.7,790.3 L726.3,790.3 L728.8,790.4 L731.4,790.6 L734.0,790.9 L736.5,791.3 L739.1,791.7 L741.6,792.2 L744.1,792.8 L746.6,793.5 L749.1,794.3 L751.5,795.1 L753.9,796.0 L756.3,797.1 L758.7,798.1 L761.0,799.3 L763.3,800.6 L765.6,801.9 L767.8,803.3 L769.9,804.8 L772.0,806.4 L774.1,808.0 L776.0,809.8 L777.9,811.6 L779.7,813.5 L781.5,815.5 L783.1,817.5 L784.7,819.7 L786.1,821.9 L787.5,824.1 L788.8,826.4 L789.9,828.8 L791.0,831.1 L792.0,833.6 L792.8,836.0 L793.6,838.5 L794.3,841.0 L794.8,843.6 L795.3,846.1 L795.7,848.7 L796.0,851.2 L796.3,853.8 L796.4,856.3 L796.5,858.9 L796.5,861.4Z"/><path d="M787.6,863.4 L787.7,865.6 L787.6,867.8 L787.4,870.0 L787.2,872.2 L786.8,874.4 L786.4,876.6 L785.9,878.8 L785.3,880.9 L784.6,883.0 L783.9,885.1 L783.1,887.1 L782.2,889.2 L781.2,891.2 L780.2,893.1 L779.1,895.0 L778.0,896.9 L776.7,898.8 L775.4,900.6 L774.1,902.3 L772.7,904.0 L771.2,905.6 L769.7,907.2 L768.1,908.8 L766.5,910.3 L764.8,911.7 L763.1,913.0 L761.3,914.3 L759.5,915.6 L757.6,916.8 L755.7,917.9 L753.8,918.9 L751.9,919.9 L749.9,920.8 L747.8,921.6 L745.8,922.4 L743.7,923.1 L741.6,923.7 L739.5,924.3 L737.3,924.8 L735.2,925.2 L733.0,925.5 L730.9,925.8 L728.7,926.0 L726.5,926.1 L724.3,926.1 L722.1,926.1 L719.9,926.0 L717.7,925.8 L715.6,925.5 L713.4,925.2 L711.3,924.8 L709.1,924.3 L707.0,923.7 L704.9,923.1 L702.8,922.4 L700.8,921.6 L698.7,920.8 L696.7,919.9 L694.8,918.9 L692.9,917.9 L691.0,916.8 L689.1,915.6 L687.3,914.3 L685.5,913.0 L683.8,911.7 L682.1,910.3 L680.5,908.8 L678.9,907.2 L677.4,905.6 L675.9,904.0 L674.5,902.3 L673.2,900.6 L671.9,898.8 L670.6,896.9 L669.5,895.0 L668.4,893.1 L667.4,891.2 L666.4,889.2 L665.5,887.1 L664.7,885.1 L664.0,883.0 L663.3,880.9 L662.7,878.8 L662.2,876.6 L661.8,874.4 L661.4,872.2 L661.2,870.0 L661.0,867.8 L660.8,865.6 L660.8,863.4 L660.8,861.2 L661.0,859.0 L661.2,856.8 L661.4,854.6 L661.8,852.4 L662.2,850.2 L662.7,848.0 L663.3,845.9 L664.0,843.8 L664.7,841.7 L665.5,839.7 L666.4,837.6 L667.4,835.6 L668.4,833.7 L669.5,831.8 L670.6,829.9 L671.9,828.0 L673.2,826.2 L674.5,824.5 L675.9,822.8 L677.4,821.2 L678.9,819.6 L680.5,818.0 L682.1,816.5 L683.8,815.1 L685.5,813.8 L687.3,812.5 L689.1,811.2 L691.0,810.0 L692.9,808.9 L694.8,807.9 L696.7,806.9 L698.7,806.0 L700.8,805.2 L702.8,804.4 L704.9,803.7 L707.0,803.1 L709.1,802.5 L711.3,802.0 L713.4,801.6 L715.6,801.3 L717.7,801.0 L719.9,800.8 L722.1,800.7 L724.3,800.7 L726.5,800.7 L728.7,800.8 L730.9,801.0 L733.0,801.3 L735.2,801.6 L737.3,802.0 L739.5,802.5 L741.6,803.1 L743.7,803.7 L745.8,804.4 L747.8,805.2 L749.9,806.0 L751.8,807.0 L753.6,808.2 L755.4,809.6 L757.0,811.1 L758.5,812.6 L760.0,814.2 L761.4,815.9 L762.8,817.6 L764.0,819.3 L765.3,821.0 L766.5,822.7 L767.6,824.4 L768.7,826.1 L769.9,827.8 L770.9,829.5 L772.0,831.2 L773.1,832.9 L774.2,834.6 L775.2,836.3 L776.3,838.0 L777.3,839.8 L778.4,841.5 L779.4,843.3 L780.5,845.2 L781.5,847.0 L782.5,848.9 L783.4,850.8 L784.4,852.8 L785.2,854.8 L786.0,856.9 L786.7,859.0 L787.2,861.2Z" fill="#ffd520"/><text class="num" filter="url(#rn)" transform="translate(0,862.9) skewX(-3.5) translate(0,-862.9)"><tspan x="693.8" y="884.9" textLength="32.45" lengthAdjust="spacingAndGlyphs" style="font-family:'DejaVu Sans Condensed','DejaVu Sans','Liberation Sans',sans-serif;font-size:60.7px;stroke-width:2.4px;">3</tspan><tspan x="726.7" y="884.9" textLength="24.92" lengthAdjust="spacingAndGlyphs" style="font-family:'DejaVu Sans Condensed','DejaVu Sans','Liberation Sans',sans-serif;font-size:60.3px;stroke-width:2.4px;">0</tspan></text>
<path d="M391.8,1060.9 L391.7,1063.4 L391.4,1065.9 L391.1,1068.4 L390.7,1070.9 L390.3,1073.4 L389.8,1075.9 L389.2,1078.3 L388.5,1080.8 L387.8,1083.2 L386.9,1085.5 L386.0,1087.9 L385.1,1090.2 L384.0,1092.5 L382.9,1094.8 L381.7,1097.0 L380.5,1099.2 L379.1,1101.3 L377.7,1103.4 L376.2,1105.5 L374.7,1107.5 L373.1,1109.4 L371.4,1111.3 L369.6,1113.1 L367.8,1114.9 L365.9,1116.6 L364.0,1118.3 L362.0,1119.8 L359.9,1121.4 L357.8,1122.8 L355.7,1124.1 L353.5,1125.4 L351.2,1126.6 L348.9,1127.8 L346.6,1128.8 L344.2,1129.7 L341.8,1130.6 L339.4,1131.4 L336.9,1132.1 L334.4,1132.7 L331.9,1133.2 L329.4,1133.6 L326.8,1133.9 L324.3,1134.2 L321.7,1134.3 L319.1,1134.4 L316.6,1134.3 L314.0,1134.2 L311.5,1133.9 L308.9,1133.6 L306.4,1133.2 L303.9,1132.7 L301.4,1132.1 L298.9,1131.4 L296.5,1130.6 L294.1,1129.7 L291.7,1128.8 L289.4,1127.8 L287.1,1126.6 L284.8,1125.4 L282.6,1124.1 L280.5,1122.8 L278.4,1121.4 L276.3,1119.8 L274.3,1118.3 L272.4,1116.6 L270.5,1114.9 L268.7,1113.1 L266.9,1111.3 L265.2,1109.4 L263.6,1107.5 L262.1,1105.5 L260.6,1103.4 L259.2,1101.3 L257.9,1099.2 L256.6,1097.0 L255.4,1094.7 L254.3,1092.5 L253.3,1090.2 L252.4,1087.9 L251.5,1085.5 L250.7,1083.1 L250.0,1080.7 L249.4,1078.3 L248.8,1075.8 L248.4,1073.3 L248.0,1070.9 L247.7,1068.4 L247.5,1065.9 L247.4,1063.4 L247.3,1060.9 L247.4,1058.4 L247.5,1055.9 L247.7,1053.4 L248.0,1050.9 L248.4,1048.4 L248.8,1045.9 L249.4,1043.5 L250.0,1041.0 L250.7,1038.6 L251.5,1036.2 L252.4,1033.9 L253.3,1031.6 L254.3,1029.3 L255.4,1027.0 L256.6,1024.8 L257.9,1022.6 L259.2,1020.4 L260.6,1018.3 L262.1,1016.3 L263.6,1014.3 L265.2,1012.3 L266.9,1010.4 L268.7,1008.6 L270.5,1006.8 L272.4,1005.1 L274.3,1003.5 L276.3,1001.9 L278.4,1000.4 L280.5,999.0 L282.6,997.6 L284.8,996.3 L287.1,995.1 L289.4,994.0 L291.7,992.9 L294.1,992.0 L296.5,991.1 L298.9,990.3 L301.4,989.6 L303.9,989.0 L306.4,988.5 L308.9,988.1 L311.5,987.7 L314.0,987.5 L316.6,987.3 L319.1,987.2 L321.7,987.2 L324.3,987.3 L326.9,987.5 L329.4,987.8 L332.0,988.2 L334.5,988.6 L337.0,989.1 L339.6,989.7 L342.0,990.4 L344.5,991.2 L347.0,992.0 L349.4,992.9 L351.8,994.0 L354.2,995.0 L356.5,996.2 L358.8,997.5 L361.0,998.8 L363.2,1000.2 L365.4,1001.7 L367.5,1003.3 L369.5,1004.9 L371.5,1006.7 L373.4,1008.5 L375.2,1010.4 L376.9,1012.4 L378.6,1014.4 L380.1,1016.6 L381.6,1018.8 L383.0,1021.0 L384.2,1023.3 L385.4,1025.7 L386.5,1028.0 L387.4,1030.5 L388.3,1032.9 L389.0,1035.4 L389.7,1037.9 L390.3,1040.5 L390.8,1043.0 L391.2,1045.6 L391.5,1048.1 L391.7,1050.7 L391.9,1053.2 L391.9,1055.8 L391.9,1058.3Z"/><path d="M383.0,1060.3 L383.2,1062.5 L383.1,1064.7 L382.9,1066.9 L382.6,1069.1 L382.3,1071.3 L381.8,1073.5 L381.3,1075.7 L380.7,1077.8 L380.1,1079.9 L379.3,1082.0 L378.5,1084.0 L377.6,1086.1 L376.7,1088.1 L375.7,1090.0 L374.6,1091.9 L373.4,1093.8 L372.2,1095.7 L370.9,1097.5 L369.5,1099.2 L368.1,1100.9 L366.7,1102.5 L365.1,1104.1 L363.6,1105.7 L361.9,1107.2 L360.3,1108.6 L358.5,1109.9 L356.8,1111.2 L354.9,1112.5 L353.1,1113.7 L351.2,1114.8 L349.3,1115.8 L347.3,1116.8 L345.3,1117.7 L343.3,1118.5 L341.2,1119.3 L339.1,1120.0 L337.0,1120.6 L334.9,1121.2 L332.8,1121.7 L330.6,1122.1 L328.5,1122.4 L326.3,1122.7 L324.1,1122.9 L321.9,1123.0 L319.8,1123.0 L317.6,1123.0 L315.4,1122.9 L313.2,1122.7 L311.0,1122.4 L308.9,1122.1 L306.7,1121.7 L304.6,1121.2 L302.5,1120.6 L300.4,1120.0 L298.3,1119.3 L296.2,1118.5 L294.2,1117.7 L292.2,1116.8 L290.2,1115.8 L288.3,1114.8 L286.4,1113.7 L284.6,1112.5 L282.7,1111.2 L281.0,1109.9 L279.2,1108.6 L277.6,1107.2 L275.9,1105.7 L274.4,1104.1 L272.8,1102.5 L271.4,1100.9 L270.0,1099.2 L268.6,1097.5 L267.3,1095.7 L266.1,1093.8 L264.9,1091.9 L263.8,1090.0 L262.8,1088.1 L261.9,1086.1 L261.0,1084.0 L260.2,1082.0 L259.4,1079.9 L258.8,1077.8 L258.2,1075.7 L257.7,1073.5 L257.2,1071.3 L256.9,1069.1 L256.6,1066.9 L256.4,1064.7 L256.3,1062.5 L256.2,1060.3 L256.3,1058.1 L256.4,1055.9 L256.6,1053.7 L256.9,1051.5 L257.2,1049.3 L257.7,1047.1 L258.2,1044.9 L258.8,1042.8 L259.4,1040.7 L260.2,1038.6 L261.0,1036.6 L261.9,1034.5 L262.8,1032.5 L263.8,1030.6 L264.9,1028.7 L266.1,1026.8 L267.3,1024.9 L268.6,1023.1 L270.0,1021.4 L271.4,1019.7 L272.8,1018.1 L274.4,1016.5 L275.9,1014.9 L277.6,1013.4 L279.2,1012.0 L281.0,1010.7 L282.7,1009.4 L284.6,1008.1 L286.4,1006.9 L288.3,1005.8 L290.2,1004.8 L292.2,1003.8 L294.2,1002.9 L296.2,1002.1 L298.3,1001.3 L300.4,1000.6 L302.5,1000.0 L304.6,999.4 L306.7,998.9 L308.9,998.5 L311.0,998.2 L313.2,997.9 L315.4,997.7 L317.6,997.6 L319.8,997.6 L321.9,997.6 L324.1,997.7 L326.3,997.9 L328.5,998.2 L330.6,998.5 L332.8,998.9 L334.9,999.4 L337.0,1000.0 L339.1,1000.6 L341.2,1001.3 L343.3,1002.1 L345.3,1002.9 L347.2,1003.9 L349.1,1005.1 L350.8,1006.5 L352.4,1008.0 L354.0,1009.5 L355.5,1011.1 L356.9,1012.8 L358.2,1014.5 L359.5,1016.2 L360.7,1017.9 L361.9,1019.6 L363.1,1021.3 L364.2,1023.0 L365.3,1024.7 L366.4,1026.4 L367.5,1028.1 L368.5,1029.8 L369.6,1031.5 L370.7,1033.2 L371.7,1034.9 L372.8,1036.7 L373.8,1038.4 L374.9,1040.2 L375.9,1042.1 L376.9,1043.9 L377.9,1045.8 L378.9,1047.7 L379.8,1049.7 L380.7,1051.7 L381.4,1053.8 L382.1,1055.9 L382.6,1058.1Z" fill="#29abe2"/><text class="num" filter="url(#rn)" transform="translate(0,1063.0) skewX(-3.5) translate(0,-1063.0)"><tspan x="291.5" y="1086.1" textLength="22.71" lengthAdjust="spacingAndGlyphs" style="font-family:'DejaVu Sans Condensed','DejaVu Sans','Liberation Sans',sans-serif;font-size:63.6px;stroke-width:2.4px;">1</tspan><tspan x="316.3" y="1084.9" textLength="24.35" lengthAdjust="spacingAndGlyphs" style="font-family:'DejaVu Sans Condensed','DejaVu Sans','Liberation Sans',sans-serif;font-size:59.8px;stroke-width:2.4px;">0</tspan></text>
<path d="M594.4,1060.9 L594.2,1063.4 L594.0,1065.9 L593.7,1068.4 L593.3,1070.9 L592.8,1073.4 L592.3,1075.9 L591.7,1078.3 L591.0,1080.8 L590.3,1083.2 L589.5,1085.5 L588.6,1087.9 L587.6,1090.2 L586.6,1092.5 L585.5,1094.8 L584.3,1097.0 L583.0,1099.2 L581.7,1101.3 L580.3,1103.4 L578.8,1105.5 L577.2,1107.5 L575.6,1109.4 L573.9,1111.3 L572.2,1113.1 L570.4,1114.9 L568.5,1116.6 L566.5,1118.3 L564.5,1119.8 L562.5,1121.4 L560.4,1122.8 L558.2,1124.1 L556.0,1125.4 L553.8,1126.6 L551.5,1127.8 L549.1,1128.8 L546.8,1129.7 L544.4,1130.6 L541.9,1131.4 L539.5,1132.1 L537.0,1132.7 L534.5,1133.2 L531.9,1133.6 L529.4,1133.9 L526.8,1134.2 L524.3,1134.3 L521.7,1134.4 L519.1,1134.3 L516.6,1134.2 L514.0,1133.9 L511.5,1133.6 L508.9,1133.2 L506.4,1132.7 L503.9,1132.1 L501.5,1131.4 L499.0,1130.6 L496.6,1129.7 L494.3,1128.8 L491.9,1127.8 L489.6,1126.6 L487.4,1125.4 L485.2,1124.1 L483.0,1122.8 L480.9,1121.4 L478.9,1119.8 L476.9,1118.3 L474.9,1116.6 L473.0,1114.9 L471.2,1113.1 L469.5,1111.3 L467.8,1109.4 L466.2,1107.5 L464.6,1105.5 L463.1,1103.4 L461.7,1101.3 L460.4,1099.2 L459.2,1097.0 L458.0,1094.7 L456.9,1092.5 L455.9,1090.2 L454.9,1087.9 L454.0,1085.5 L453.3,1083.1 L452.6,1080.7 L451.9,1078.3 L451.4,1075.8 L450.9,1073.3 L450.6,1070.9 L450.3,1068.4 L450.1,1065.9 L449.9,1063.4 L449.9,1060.9 L449.9,1058.4 L450.1,1055.9 L450.3,1053.4 L450.6,1050.9 L450.9,1048.4 L451.4,1045.9 L451.9,1043.5 L452.6,1041.0 L453.3,1038.6 L454.0,1036.2 L454.9,1033.9 L455.9,1031.6 L456.9,1029.3 L458.0,1027.0 L459.2,1024.8 L460.4,1022.6 L461.7,1020.4 L463.1,1018.3 L464.6,1016.3 L466.2,1014.3 L467.8,1012.3 L469.5,1010.4 L471.2,1008.6 L473.0,1006.8 L474.9,1005.1 L476.9,1003.5 L478.9,1001.9 L480.9,1000.4 L483.0,999.0 L485.2,997.6 L487.4,996.3 L489.6,995.1 L491.9,994.0 L494.3,992.9 L496.6,992.0 L499.0,991.1 L501.5,990.3 L503.9,989.6 L506.4,989.0 L508.9,988.5 L511.5,988.1 L514.0,987.7 L516.6,987.5 L519.1,987.3 L521.7,987.2 L524.3,987.2 L526.8,987.3 L529.4,987.5 L532.0,987.8 L534.5,988.2 L537.1,988.6 L539.6,989.1 L542.1,989.7 L544.6,990.4 L547.1,991.2 L549.5,992.0 L551.9,992.9 L554.3,994.0 L556.7,995.0 L559.0,996.2 L561.3,997.5 L563.6,998.8 L565.8,1000.2 L567.9,1001.7 L570.0,1003.3 L572.1,1004.9 L574.0,1006.7 L575.9,1008.5 L577.7,1010.4 L579.5,1012.4 L581.1,1014.4 L582.7,1016.6 L584.1,1018.8 L585.5,1021.0 L586.8,1023.3 L587.9,1025.7 L589.0,1028.0 L590.0,1030.5 L590.8,1032.9 L591.6,1035.4 L592.3,1037.9 L592.8,1040.5 L593.3,1043.0 L593.7,1045.6 L594.0,1048.1 L594.3,1050.7 L594.4,1053.2 L594.5,1055.8 L594.5,1058.3Z"/><path d="M585.6,1060.3 L585.7,1062.5 L585.6,1064.7 L585.4,1066.9 L585.2,1069.1 L584.8,1071.3 L584.4,1073.5 L583.9,1075.7 L583.3,1077.8 L582.6,1079.9 L581.9,1082.0 L581.1,1084.0 L580.2,1086.1 L579.2,1088.1 L578.2,1090.0 L577.1,1091.9 L576.0,1093.8 L574.7,1095.7 L573.4,1097.5 L572.1,1099.2 L570.7,1100.9 L569.2,1102.5 L567.7,1104.1 L566.1,1105.7 L564.5,1107.2 L562.8,1108.6 L561.1,1109.9 L559.3,1111.2 L557.5,1112.5 L555.6,1113.7 L553.7,1114.8 L551.8,1115.8 L549.9,1116.8 L547.9,1117.7 L545.8,1118.5 L543.8,1119.3 L541.7,1120.0 L539.6,1120.6 L537.5,1121.2 L535.3,1121.7 L533.2,1122.1 L531.0,1122.4 L528.9,1122.7 L526.7,1122.9 L524.5,1123.0 L522.3,1123.0 L520.1,1123.0 L517.9,1122.9 L515.7,1122.7 L513.6,1122.4 L511.4,1122.1 L509.3,1121.7 L507.1,1121.2 L505.0,1120.6 L502.9,1120.0 L500.8,1119.3 L498.8,1118.5 L496.7,1117.7 L494.7,1116.8 L492.8,1115.8 L490.9,1114.8 L489.0,1113.7 L487.1,1112.5 L485.3,1111.2 L483.5,1109.9 L481.8,1108.6 L480.1,1107.2 L478.5,1105.7 L476.9,1104.1 L475.4,1102.5 L473.9,1100.9 L472.5,1099.2 L471.2,1097.5 L469.9,1095.7 L468.6,1093.8 L467.5,1091.9 L466.4,1090.0 L465.4,1088.1 L464.4,1086.1 L463.5,1084.0 L462.7,1082.0 L462.0,1079.9 L461.3,1077.8 L460.7,1075.7 L460.2,1073.5 L459.8,1071.3 L459.4,1069.1 L459.2,1066.9 L459.0,1064.7 L458.8,1062.5 L458.8,1060.3 L458.8,1058.1 L459.0,1055.9 L459.2,1053.7 L459.4,1051.5 L459.8,1049.3 L460.2,1047.1 L460.7,1044.9 L461.3,1042.8 L462.0,1040.7 L462.7,1038.6 L463.5,1036.6 L464.4,1034.5 L465.4,1032.5 L466.4,1030.6 L467.5,1028.7 L468.6,1026.8 L469.9,1024.9 L471.2,1023.1 L472.5,1021.4 L473.9,1019.7 L475.4,1018.1 L476.9,1016.5 L478.5,1014.9 L480.1,1013.4 L481.8,1012.0 L483.5,1010.7 L485.3,1009.4 L487.1,1008.1 L489.0,1006.9 L490.9,1005.8 L492.8,1004.8 L494.7,1003.8 L496.7,1002.9 L498.8,1002.1 L500.8,1001.3 L502.9,1000.6 L505.0,1000.0 L507.1,999.4 L509.3,998.9 L511.4,998.5 L513.6,998.2 L515.7,997.9 L517.9,997.7 L520.1,997.6 L522.3,997.6 L524.5,997.6 L526.7,997.7 L528.9,997.9 L531.0,998.2 L533.2,998.5 L535.3,998.9 L537.5,999.4 L539.6,1000.0 L541.7,1000.6 L543.8,1001.3 L545.8,1002.1 L547.9,1002.9 L549.8,1003.9 L551.6,1005.1 L553.4,1006.5 L555.0,1008.0 L556.5,1009.5 L558.0,1011.1 L559.4,1012.8 L560.8,1014.5 L562.0,1016.2 L563.3,1017.9 L564.5,1019.6 L565.6,1021.3 L566.7,1023.0 L567.9,1024.7 L568.9,1026.4 L570.0,1028.1 L571.1,1029.8 L572.2,1031.5 L573.2,1033.2 L574.3,1034.9 L575.3,1036.7 L576.4,1038.4 L577.4,1040.2 L578.5,1042.1 L579.5,1043.9 L580.5,1045.8 L581.4,1047.7 L582.4,1049.7 L583.2,1051.7 L584.0,1053.8 L584.7,1055.9 L585.2,1058.1Z" fill="#a8e64a"/><text class="num" filter="url(#rn)" transform="translate(0,1062.8) skewX(-3.5) translate(0,-1062.8)"><tspan x="494.1" y="1085.7" textLength="28.85" lengthAdjust="spacingAndGlyphs" style="font-family:'DejaVu Sans Condensed','DejaVu Sans','Liberation Sans',sans-serif;font-size:61.4px;stroke-width:2.4px;">2</tspan><tspan x="521.7" y="1084.8" textLength="24.79" lengthAdjust="spacingAndGlyphs" style="font-family:'DejaVu Sans Condensed','DejaVu Sans','Liberation Sans',sans-serif;font-size:60.7px;stroke-width:2.4px;">0</tspan></text>
<path d="M796.3,1060.9 L796.1,1063.4 L795.9,1065.9 L795.6,1068.4 L795.2,1070.9 L794.7,1073.4 L794.2,1075.9 L793.6,1078.3 L792.9,1080.8 L792.2,1083.2 L791.4,1085.5 L790.5,1087.9 L789.5,1090.2 L788.5,1092.5 L787.4,1094.8 L786.2,1097.0 L784.9,1099.2 L783.6,1101.3 L782.2,1103.4 L780.7,1105.5 L779.1,1107.5 L777.5,1109.4 L775.8,1111.3 L774.1,1113.1 L772.3,1114.9 L770.4,1116.6 L768.4,1118.3 L766.4,1119.8 L764.4,1121.4 L762.3,1122.8 L760.1,1124.1 L757.9,1125.4 L755.7,1126.6 L753.4,1127.8 L751.0,1128.8 L748.7,1129.7 L746.3,1130.6 L743.8,1131.4 L741.4,1132.1 L738.9,1132.7 L736.4,1133.2 L733.8,1133.6 L731.3,1133.9 L728.7,1134.2 L726.2,1134.3 L723.6,1134.4 L721.0,1134.3 L718.5,1134.2 L715.9,1133.9 L713.4,1133.6 L710.8,1133.2 L708.3,1132.7 L705.8,1132.1 L703.4,1131.4 L700.9,1130.6 L698.5,1129.7 L696.2,1128.8 L693.8,1127.8 L691.5,1126.6 L689.3,1125.4 L687.1,1124.1 L684.9,1122.8 L682.8,1121.4 L680.8,1119.8 L678.8,1118.3 L676.8,1116.6 L674.9,1114.9 L673.1,1113.1 L671.4,1111.3 L669.7,1109.4 L668.1,1107.5 L666.5,1105.5 L665.0,1103.4 L663.6,1101.3 L662.3,1099.2 L661.1,1097.0 L659.9,1094.7 L658.8,1092.5 L657.8,1090.2 L656.8,1087.9 L655.9,1085.5 L655.2,1083.1 L654.5,1080.7 L653.8,1078.3 L653.3,1075.8 L652.8,1073.3 L652.5,1070.9 L652.2,1068.4 L652.0,1065.9 L651.8,1063.4 L651.8,1060.9 L651.8,1058.4 L652.0,1055.9 L652.2,1053.4 L652.5,1050.9 L652.8,1048.4 L653.3,1045.9 L653.8,1043.5 L654.5,1041.0 L655.2,1038.6 L655.9,1036.2 L656.8,1033.9 L657.8,1031.6 L658.8,1029.3 L659.9,1027.0 L661.1,1024.8 L662.3,1022.6 L663.6,1020.4 L665.0,1018.3 L666.5,1016.3 L668.1,1014.3 L669.7,1012.3 L671.4,1010.4 L673.1,1008.6 L674.9,1006.8 L676.8,1005.1 L678.8,1003.5 L680.8,1001.9 L682.8,1000.4 L684.9,999.0 L687.1,997.6 L689.3,996.3 L691.5,995.1 L693.8,994.0 L696.2,992.9 L698.5,992.0 L700.9,991.1 L703.4,990.3 L705.8,989.6 L708.3,989.0 L710.8,988.5 L713.4,988.1 L715.9,987.7 L718.5,987.5 L721.0,987.3 L723.6,987.2 L726.2,987.2 L728.7,987.3 L731.3,987.5 L733.9,987.8 L736.4,988.2 L739.0,988.6 L741.5,989.1 L744.0,989.7 L746.5,990.4 L749.0,991.2 L751.4,992.0 L753.8,992.9 L756.2,994.0 L758.6,995.0 L760.9,996.2 L763.2,997.5 L765.5,998.8 L767.7,1000.2 L769.8,1001.7 L771.9,1003.3 L774.0,1004.9 L775.9,1006.7 L777.8,1008.5 L779.6,1010.4 L781.4,1012.4 L783.0,1014.4 L784.6,1016.6 L786.0,1018.8 L787.4,1021.0 L788.7,1023.3 L789.8,1025.7 L790.9,1028.0 L791.9,1030.5 L792.7,1032.9 L793.5,1035.4 L794.2,1037.9 L794.7,1040.5 L795.2,1043.0 L795.6,1045.6 L795.9,1048.1 L796.2,1050.7 L796.3,1053.2 L796.4,1055.8 L796.4,1058.3Z"/><path d="M787.5,1060.3 L787.6,1062.5 L787.5,1064.7 L787.3,1066.9 L787.1,1069.1 L786.7,1071.3 L786.3,1073.5 L785.8,1075.7 L785.2,1077.8 L784.5,1079.9 L783.8,1082.0 L783.0,1084.0 L782.1,1086.1 L781.1,1088.1 L780.1,1090.0 L779.0,1091.9 L777.9,1093.8 L776.6,1095.7 L775.3,1097.5 L774.0,1099.2 L772.6,1100.9 L771.1,1102.5 L769.6,1104.1 L768.0,1105.7 L766.4,1107.2 L764.7,1108.6 L763.0,1109.9 L761.2,1111.2 L759.4,1112.5 L757.5,1113.7 L755.6,1114.8 L753.7,1115.8 L751.8,1116.8 L749.8,1117.7 L747.7,1118.5 L745.7,1119.3 L743.6,1120.0 L741.5,1120.6 L739.4,1121.2 L737.2,1121.7 L735.1,1122.1 L732.9,1122.4 L730.8,1122.7 L728.6,1122.9 L726.4,1123.0 L724.2,1123.0 L722.0,1123.0 L719.8,1122.9 L717.6,1122.7 L715.5,1122.4 L713.3,1122.1 L711.2,1121.7 L709.0,1121.2 L706.9,1120.6 L704.8,1120.0 L702.7,1119.3 L700.7,1118.5 L698.6,1117.7 L696.6,1116.8 L694.7,1115.8 L692.8,1114.8 L690.9,1113.7 L689.0,1112.5 L687.2,1111.2 L685.4,1109.9 L683.7,1108.6 L682.0,1107.2 L680.4,1105.7 L678.8,1104.1 L677.3,1102.5 L675.8,1100.9 L674.4,1099.2 L673.1,1097.5 L671.8,1095.7 L670.5,1093.8 L669.4,1091.9 L668.3,1090.0 L667.3,1088.1 L666.3,1086.1 L665.4,1084.0 L664.6,1082.0 L663.9,1079.9 L663.2,1077.8 L662.6,1075.7 L662.1,1073.5 L661.7,1071.3 L661.3,1069.1 L661.1,1066.9 L660.9,1064.7 L660.7,1062.5 L660.7,1060.3 L660.7,1058.1 L660.9,1055.9 L661.1,1053.7 L661.3,1051.5 L661.7,1049.3 L662.1,1047.1 L662.6,1044.9 L663.2,1042.8 L663.9,1040.7 L664.6,1038.6 L665.4,1036.6 L666.3,1034.5 L667.3,1032.5 L668.3,1030.6 L669.4,1028.7 L670.5,1026.8 L671.8,1024.9 L673.1,1023.1 L674.4,1021.4 L675.8,1019.7 L677.3,1018.1 L678.8,1016.5 L680.4,1014.9 L682.0,1013.4 L683.7,1012.0 L685.4,1010.7 L687.2,1009.4 L689.0,1008.1 L690.9,1006.9 L692.8,1005.8 L694.7,1004.8 L696.6,1003.8 L698.6,1002.9 L700.7,1002.1 L702.7,1001.3 L704.8,1000.6 L706.9,1000.0 L709.0,999.4 L711.2,998.9 L713.3,998.5 L715.5,998.2 L717.6,997.9 L719.8,997.7 L722.0,997.6 L724.2,997.6 L726.4,997.6 L728.6,997.7 L730.8,997.9 L732.9,998.2 L735.1,998.5 L737.2,998.9 L739.4,999.4 L741.5,1000.0 L743.6,1000.6 L745.7,1001.3 L747.7,1002.1 L749.8,1002.9 L751.7,1003.9 L753.5,1005.1 L755.3,1006.5 L756.9,1008.0 L758.4,1009.5 L759.9,1011.1 L761.3,1012.8 L762.7,1014.5 L763.9,1016.2 L765.2,1017.9 L766.4,1019.6 L767.5,1021.3 L768.6,1023.0 L769.8,1024.7 L770.8,1026.4 L771.9,1028.1 L773.0,1029.8 L774.1,1031.5 L775.1,1033.2 L776.2,1034.9 L777.2,1036.7 L778.3,1038.4 L779.3,1040.2 L780.4,1042.1 L781.4,1043.9 L782.4,1045.8 L783.3,1047.7 L784.3,1049.7 L785.1,1051.7 L785.9,1053.8 L786.6,1055.9 L787.1,1058.1Z" fill="#ffd520"/><text class="num" filter="url(#rn)" transform="translate(0,1061.5) skewX(-3.5) translate(0,-1061.5)"><tspan x="693.6" y="1083.5" textLength="32.45" lengthAdjust="spacingAndGlyphs" style="font-family:'DejaVu Sans Condensed','DejaVu Sans','Liberation Sans',sans-serif;font-size:60.7px;stroke-width:2.4px;">3</tspan><tspan x="726.5" y="1083.5" textLength="24.92" lengthAdjust="spacingAndGlyphs" style="font-family:'DejaVu Sans Condensed','DejaVu Sans','Liberation Sans',sans-serif;font-size:60.3px;stroke-width:2.4px;">0</tspan></text>
<path d="M999.2,1060.9 L999.0,1063.4 L998.8,1065.9 L998.5,1068.4 L998.1,1070.9 L997.6,1073.4 L997.1,1075.9 L996.5,1078.3 L995.8,1080.8 L995.1,1083.2 L994.3,1085.5 L993.4,1087.9 L992.4,1090.2 L991.4,1092.5 L990.3,1094.8 L989.1,1097.0 L987.8,1099.2 L986.5,1101.3 L985.1,1103.4 L983.6,1105.5 L982.0,1107.5 L980.4,1109.4 L978.7,1111.3 L977.0,1113.1 L975.2,1114.9 L973.3,1116.6 L971.3,1118.3 L969.3,1119.8 L967.3,1121.4 L965.2,1122.8 L963.0,1124.1 L960.8,1125.4 L958.6,1126.6 L956.3,1127.8 L953.9,1128.8 L951.6,1129.7 L949.2,1130.6 L946.7,1131.4 L944.3,1132.1 L941.8,1132.7 L939.3,1133.2 L936.7,1133.6 L934.2,1133.9 L931.6,1134.2 L929.1,1134.3 L926.5,1134.4 L923.9,1134.3 L921.4,1134.2 L918.8,1133.9 L916.3,1133.6 L913.7,1133.2 L911.2,1132.7 L908.7,1132.1 L906.3,1131.4 L903.8,1130.6 L901.4,1129.7 L899.1,1128.8 L896.7,1127.8 L894.4,1126.6 L892.2,1125.4 L890.0,1124.1 L887.8,1122.8 L885.7,1121.4 L883.7,1119.8 L881.7,1118.3 L879.7,1116.6 L877.8,1114.9 L876.0,1113.1 L874.3,1111.3 L872.6,1109.4 L871.0,1107.5 L869.4,1105.5 L867.9,1103.4 L866.5,1101.3 L865.2,1099.2 L864.0,1097.0 L862.8,1094.7 L861.7,1092.5 L860.7,1090.2 L859.7,1087.9 L858.8,1085.5 L858.1,1083.1 L857.4,1080.7 L856.7,1078.3 L856.2,1075.8 L855.7,1073.3 L855.4,1070.9 L855.1,1068.4 L854.9,1065.9 L854.7,1063.4 L854.7,1060.9 L854.7,1058.4 L854.9,1055.9 L855.1,1053.4 L855.4,1050.9 L855.7,1048.4 L856.2,1045.9 L856.7,1043.5 L857.4,1041.0 L858.1,1038.6 L858.8,1036.2 L859.7,1033.9 L860.7,1031.6 L861.7,1029.3 L862.8,1027.0 L864.0,1024.8 L865.2,1022.6 L866.5,1020.4 L867.9,1018.3 L869.4,1016.3 L871.0,1014.3 L872.6,1012.3 L874.3,1010.4 L876.0,1008.6 L877.8,1006.8 L879.7,1005.1 L881.7,1003.5 L883.7,1001.9 L885.7,1000.4 L887.8,999.0 L890.0,997.6 L892.2,996.3 L894.4,995.1 L896.7,994.0 L899.1,992.9 L901.4,992.0 L903.8,991.1 L906.3,990.3 L908.7,989.6 L911.2,989.0 L913.7,988.5 L916.3,988.1 L918.8,987.7 L921.4,987.5 L923.9,987.3 L926.5,987.2 L929.1,987.2 L931.6,987.3 L934.2,987.5 L936.8,987.8 L939.3,988.2 L941.9,988.6 L944.4,989.1 L946.9,989.7 L949.4,990.4 L951.9,991.2 L954.3,992.0 L956.7,992.9 L959.1,994.0 L961.5,995.0 L963.8,996.2 L966.1,997.5 L968.4,998.8 L970.6,1000.2 L972.7,1001.7 L974.8,1003.3 L976.9,1004.9 L978.8,1006.7 L980.7,1008.5 L982.5,1010.4 L984.3,1012.4 L985.9,1014.4 L987.5,1016.6 L988.9,1018.8 L990.3,1021.0 L991.6,1023.3 L992.7,1025.7 L993.8,1028.0 L994.8,1030.5 L995.6,1032.9 L996.4,1035.4 L997.1,1037.9 L997.6,1040.5 L998.1,1043.0 L998.5,1045.6 L998.8,1048.1 L999.1,1050.7 L999.2,1053.2 L999.3,1055.8 L999.3,1058.3Z"/><path d="M990.4,1060.3 L990.5,1062.5 L990.4,1064.7 L990.2,1066.9 L990.0,1069.1 L989.6,1071.3 L989.2,1073.5 L988.7,1075.7 L988.1,1077.8 L987.4,1079.9 L986.7,1082.0 L985.9,1084.0 L985.0,1086.1 L984.0,1088.1 L983.0,1090.0 L981.9,1091.9 L980.8,1093.8 L979.5,1095.7 L978.2,1097.5 L976.9,1099.2 L975.5,1100.9 L974.0,1102.5 L972.5,1104.1 L970.9,1105.7 L969.3,1107.2 L967.6,1108.6 L965.9,1109.9 L964.1,1111.2 L962.3,1112.5 L960.4,1113.7 L958.5,1114.8 L956.6,1115.8 L954.7,1116.8 L952.7,1117.7 L950.6,1118.5 L948.6,1119.3 L946.5,1120.0 L944.4,1120.6 L942.3,1121.2 L940.1,1121.7 L938.0,1122.1 L935.8,1122.4 L933.7,1122.7 L931.5,1122.9 L929.3,1123.0 L927.1,1123.0 L924.9,1123.0 L922.7,1122.9 L920.5,1122.7 L918.4,1122.4 L916.2,1122.1 L914.1,1121.7 L911.9,1121.2 L909.8,1120.6 L907.7,1120.0 L905.6,1119.3 L903.6,1118.5 L901.5,1117.7 L899.5,1116.8 L897.6,1115.8 L895.7,1114.8 L893.8,1113.7 L891.9,1112.5 L890.1,1111.2 L888.3,1109.9 L886.6,1108.6 L884.9,1107.2 L883.3,1105.7 L881.7,1104.1 L880.2,1102.5 L878.7,1100.9 L877.3,1099.2 L876.0,1097.5 L874.7,1095.7 L873.4,1093.8 L872.3,1091.9 L871.2,1090.0 L870.2,1088.1 L869.2,1086.1 L868.3,1084.0 L867.5,1082.0 L866.8,1079.9 L866.1,1077.8 L865.5,1075.7 L865.0,1073.5 L864.6,1071.3 L864.2,1069.1 L864.0,1066.9 L863.8,1064.7 L863.6,1062.5 L863.6,1060.3 L863.6,1058.1 L863.8,1055.9 L864.0,1053.7 L864.2,1051.5 L864.6,1049.3 L865.0,1047.1 L865.5,1044.9 L866.1,1042.8 L866.8,1040.7 L867.5,1038.6 L868.3,1036.6 L869.2,1034.5 L870.2,1032.5 L871.2,1030.6 L872.3,1028.7 L873.4,1026.8 L874.7,1024.9 L876.0,1023.1 L877.3,1021.4 L878.7,1019.7 L880.2,1018.1 L881.7,1016.5 L883.3,1014.9 L884.9,1013.4 L886.6,1012.0 L888.3,1010.7 L890.1,1009.4 L891.9,1008.1 L893.8,1006.9 L895.7,1005.8 L897.6,1004.8 L899.5,1003.8 L901.5,1002.9 L903.6,1002.1 L905.6,1001.3 L907.7,1000.6 L909.8,1000.0 L911.9,999.4 L914.1,998.9 L916.2,998.5 L918.4,998.2 L920.5,997.9 L922.7,997.7 L924.9,997.6 L927.1,997.6 L929.3,997.6 L931.5,997.7 L933.7,997.9 L935.8,998.2 L938.0,998.5 L940.1,998.9 L942.3,999.4 L944.4,1000.0 L946.5,1000.6 L948.6,1001.3 L950.6,1002.1 L952.7,1002.9 L954.6,1003.9 L956.4,1005.1 L958.2,1006.5 L959.8,1008.0 L961.3,1009.5 L962.8,1011.1 L964.2,1012.8 L965.6,1014.5 L966.8,1016.2 L968.1,1017.9 L969.3,1019.6 L970.4,1021.3 L971.5,1023.0 L972.7,1024.7 L973.7,1026.4 L974.8,1028.1 L975.9,1029.8 L977.0,1031.5 L978.0,1033.2 L979.1,1034.9 L980.1,1036.7 L981.2,1038.4 L982.2,1040.2 L983.3,1042.1 L984.3,1043.9 L985.3,1045.8 L986.2,1047.7 L987.2,1049.7 L988.0,1051.7 L988.8,1053.8 L989.5,1055.9 L990.0,1058.1Z" fill="#29abe2"/><text class="num" filter="url(#rn)" transform="translate(0,1063.2) skewX(-3.5) translate(0,-1063.2)"><tspan x="896.6" y="1086.3" textLength="29.98" lengthAdjust="spacingAndGlyphs" style="font-family:'DejaVu Sans Condensed','DejaVu Sans','Liberation Sans',sans-serif;font-size:63.4px;stroke-width:2.4px;">4</tspan><tspan x="928.2" y="1085.1" textLength="25.05" lengthAdjust="spacingAndGlyphs" style="font-family:'DejaVu Sans Condensed','DejaVu Sans','Liberation Sans',sans-serif;font-size:59.8px;stroke-width:2.4px;">0</tspan></text>
<path d="M1201.1,1060.9 L1200.9,1063.4 L1200.7,1065.9 L1200.4,1068.4 L1200.0,1070.9 L1199.5,1073.4 L1199.0,1075.9 L1198.4,1078.3 L1197.7,1080.8 L1197.0,1083.2 L1196.2,1085.5 L1195.3,1087.9 L1194.3,1090.2 L1193.3,1092.5 L1192.2,1094.8 L1191.0,1097.0 L1189.7,1099.2 L1188.4,1101.3 L1187.0,1103.4 L1185.5,1105.5 L1183.9,1107.5 L1182.3,1109.4 L1180.6,1111.3 L1178.9,1113.1 L1177.1,1114.9 L1175.2,1116.6 L1173.2,1118.3 L1171.2,1119.8 L1169.2,1121.4 L1167.1,1122.8 L1164.9,1124.1 L1162.7,1125.4 L1160.5,1126.6 L1158.2,1127.8 L1155.8,1128.8 L1153.5,1129.7 L1151.1,1130.6 L1148.6,1131.4 L1146.2,1132.1 L1143.7,1132.7 L1141.2,1133.2 L1138.6,1133.6 L1136.1,1133.9 L1133.5,1134.2 L1131.0,1134.3 L1128.4,1134.4 L1125.8,1134.3 L1123.3,1134.2 L1120.7,1133.9 L1118.2,1133.6 L1115.6,1133.2 L1113.1,1132.7 L1110.6,1132.1 L1108.2,1131.4 L1105.7,1130.6 L1103.3,1129.7 L1101.0,1128.8 L1098.6,1127.8 L1096.3,1126.6 L1094.1,1125.4 L1091.9,1124.1 L1089.7,1122.8 L1087.6,1121.4 L1085.6,1119.8 L1083.6,1118.3 L1081.6,1116.6 L1079.7,1114.9 L1077.9,1113.1 L1076.2,1111.3 L1074.5,1109.4 L1072.9,1107.5 L1071.3,1105.5 L1069.8,1103.4 L1068.4,1101.3 L1067.1,1099.2 L1065.9,1097.0 L1064.7,1094.7 L1063.6,1092.5 L1062.6,1090.2 L1061.6,1087.9 L1060.7,1085.5 L1060.0,1083.1 L1059.3,1080.7 L1058.6,1078.3 L1058.1,1075.8 L1057.6,1073.3 L1057.3,1070.9 L1057.0,1068.4 L1056.8,1065.9 L1056.6,1063.4 L1056.6,1060.9 L1056.6,1058.4 L1056.8,1055.9 L1057.0,1053.4 L1057.3,1050.9 L1057.6,1048.4 L1058.1,1045.9 L1058.6,1043.5 L1059.3,1041.0 L1060.0,1038.6 L1060.7,1036.2 L1061.6,1033.9 L1062.6,1031.6 L1063.6,1029.3 L1064.7,1027.0 L1065.9,1024.8 L1067.1,1022.6 L1068.4,1020.4 L1069.8,1018.3 L1071.3,1016.3 L1072.9,1014.3 L1074.5,1012.3 L1076.2,1010.4 L1077.9,1008.6 L1079.7,1006.8 L1081.6,1005.1 L1083.6,1003.5 L1085.6,1001.9 L1087.6,1000.4 L1089.7,999.0 L1091.9,997.6 L1094.1,996.3 L1096.3,995.1 L1098.6,994.0 L1101.0,992.9 L1103.3,992.0 L1105.7,991.1 L1108.2,990.3 L1110.6,989.6 L1113.1,989.0 L1115.6,988.5 L1118.2,988.1 L1120.7,987.7 L1123.3,987.5 L1125.8,987.3 L1128.4,987.2 L1131.0,987.2 L1133.5,987.3 L1136.1,987.5 L1138.7,987.8 L1141.2,988.2 L1143.8,988.6 L1146.3,989.1 L1148.8,989.7 L1151.3,990.4 L1153.8,991.2 L1156.2,992.0 L1158.6,992.9 L1161.0,994.0 L1163.4,995.0 L1165.7,996.2 L1168.0,997.5 L1170.3,998.8 L1172.5,1000.2 L1174.6,1001.7 L1176.7,1003.3 L1178.8,1004.9 L1180.7,1006.7 L1182.6,1008.5 L1184.4,1010.4 L1186.2,1012.4 L1187.8,1014.4 L1189.4,1016.6 L1190.8,1018.8 L1192.2,1021.0 L1193.5,1023.3 L1194.6,1025.7 L1195.7,1028.0 L1196.7,1030.5 L1197.5,1032.9 L1198.3,1035.4 L1199.0,1037.9 L1199.5,1040.5 L1200.0,1043.0 L1200.4,1045.6 L1200.7,1048.1 L1201.0,1050.7 L1201.1,1053.2 L1201.2,1055.8 L1201.2,1058.3Z"/><path d="M1192.3,1060.3 L1192.4,1062.5 L1192.3,1064.7 L1192.1,1066.9 L1191.9,1069.1 L1191.5,1071.3 L1191.1,1073.5 L1190.6,1075.7 L1190.0,1077.8 L1189.3,1079.9 L1188.6,1082.0 L1187.8,1084.0 L1186.9,1086.1 L1185.9,1088.1 L1184.9,1090.0 L1183.8,1091.9 L1182.7,1093.8 L1181.4,1095.7 L1180.1,1097.5 L1178.8,1099.2 L1177.4,1100.9 L1175.9,1102.5 L1174.4,1104.1 L1172.8,1105.7 L1171.2,1107.2 L1169.5,1108.6 L1167.8,1109.9 L1166.0,1111.2 L1164.2,1112.5 L1162.3,1113.7 L1160.4,1114.8 L1158.5,1115.8 L1156.6,1116.8 L1154.6,1117.7 L1152.5,1118.5 L1150.5,1119.3 L1148.4,1120.0 L1146.3,1120.6 L1144.2,1121.2 L1142.0,1121.7 L1139.9,1122.1 L1137.7,1122.4 L1135.6,1122.7 L1133.4,1122.9 L1131.2,1123.0 L1129.0,1123.0 L1126.8,1123.0 L1124.6,1122.9 L1122.4,1122.7 L1120.3,1122.4 L1118.1,1122.1 L1116.0,1121.7 L1113.8,1121.2 L1111.7,1120.6 L1109.6,1120.0 L1107.5,1119.3 L1105.5,1118.5 L1103.4,1117.7 L1101.4,1116.8 L1099.5,1115.8 L1097.6,1114.8 L1095.7,1113.7 L1093.8,1112.5 L1092.0,1111.2 L1090.2,1109.9 L1088.5,1108.6 L1086.8,1107.2 L1085.2,1105.7 L1083.6,1104.1 L1082.1,1102.5 L1080.6,1100.9 L1079.2,1099.2 L1077.9,1097.5 L1076.6,1095.7 L1075.3,1093.8 L1074.2,1091.9 L1073.1,1090.0 L1072.1,1088.1 L1071.1,1086.1 L1070.2,1084.0 L1069.4,1082.0 L1068.7,1079.9 L1068.0,1077.8 L1067.4,1075.7 L1066.9,1073.5 L1066.5,1071.3 L1066.1,1069.1 L1065.9,1066.9 L1065.7,1064.7 L1065.5,1062.5 L1065.5,1060.3 L1065.5,1058.1 L1065.7,1055.9 L1065.9,1053.7 L1066.1,1051.5 L1066.5,1049.3 L1066.9,1047.1 L1067.4,1044.9 L1068.0,1042.8 L1068.7,1040.7 L1069.4,1038.6 L1070.2,1036.6 L1071.1,1034.5 L1072.1,1032.5 L1073.1,1030.6 L1074.2,1028.7 L1075.3,1026.8 L1076.6,1024.9 L1077.9,1023.1 L1079.2,1021.4 L1080.6,1019.7 L1082.1,1018.1 L1083.6,1016.5 L1085.2,1014.9 L1086.8,1013.4 L1088.5,1012.0 L1090.2,1010.7 L1092.0,1009.4 L1093.8,1008.1 L1095.7,1006.9 L1097.6,1005.8 L1099.5,1004.8 L1101.4,1003.8 L1103.4,1002.9 L1105.5,1002.1 L1107.5,1001.3 L1109.6,1000.6 L1111.7,1000.0 L1113.8,999.4 L1116.0,998.9 L1118.1,998.5 L1120.3,998.2 L1122.4,997.9 L1124.6,997.7 L1126.8,997.6 L1129.0,997.6 L1131.2,997.6 L1133.4,997.7 L1135.6,997.9 L1137.7,998.2 L1139.9,998.5 L1142.0,998.9 L1144.2,999.4 L1146.3,1000.0 L1148.4,1000.6 L1150.5,1001.3 L1152.5,1002.1 L1154.6,1002.9 L1156.5,1003.9 L1158.3,1005.1 L1160.1,1006.5 L1161.7,1008.0 L1163.2,1009.5 L1164.7,1011.1 L1166.1,1012.8 L1167.5,1014.5 L1168.7,1016.2 L1170.0,1017.9 L1171.2,1019.6 L1172.3,1021.3 L1173.4,1023.0 L1174.6,1024.7 L1175.6,1026.4 L1176.7,1028.1 L1177.8,1029.8 L1178.9,1031.5 L1179.9,1033.2 L1181.0,1034.9 L1182.0,1036.7 L1183.1,1038.4 L1184.1,1040.2 L1185.2,1042.1 L1186.2,1043.9 L1187.2,1045.8 L1188.1,1047.7 L1189.1,1049.7 L1189.9,1051.7 L1190.7,1053.8 L1191.4,1055.9 L1191.9,1058.1Z" fill="#a8e64a"/><text class="num" filter="url(#rn)" transform="translate(0,1063.5) skewX(-3.5) translate(0,-1063.5)"><tspan x="1101.6" y="1085.7" textLength="28.56" lengthAdjust="spacingAndGlyphs" style="font-family:'DejaVu Sans Condensed','DejaVu Sans','Liberation Sans',sans-serif;font-size:62.4px;stroke-width:2.4px;">5</tspan><tspan x="1130.3" y="1085.4" textLength="25.27" lengthAdjust="spacingAndGlyphs" style="font-family:'DejaVu Sans Condensed','DejaVu Sans','Liberation Sans',sans-serif;font-size:60.3px;stroke-width:2.4px;">0</tspan></text>
</g>
<text class="fm" filter="url(#rf)"><tspan x="220.7" y="374.8" textLength="39.86" lengthAdjust="spacingAndGlyphs" style="font-family:'DejaVu Sans Condensed','DejaVu Sans','Liberation Sans',sans-serif;font-size:122.5px;stroke-width:0.5px;">f</tspan><tspan x="255.2" y="373.8" textLength="30.60" lengthAdjust="spacingAndGlyphs" style="font-family:'DejaVu Sans Condensed','DejaVu Sans','Liberation Sans',sans-serif;font-size:102.0px;stroke-width:0.5px;">l</tspan><tspan x="278.4" y="371.9" textLength="39.99" lengthAdjust="spacingAndGlyphs" style="font-family:'DejaVu Sans Condensed','DejaVu Sans','Liberation Sans',sans-serif;font-size:93.0px;stroke-width:4.6px;">a</tspan><tspan x="318.8" y="375.1" textLength="38.93" lengthAdjust="spacingAndGlyphs" style="font-family:'DejaVu Sans Condensed','DejaVu Sans','Liberation Sans',sans-serif;font-size:92.0px;stroke-width:0.88px;">t</tspan><tspan x="357.4" y="373.1" textLength="67.01" lengthAdjust="spacingAndGlyphs" style="font-family:'DejaVu Sans Condensed','DejaVu Sans','Liberation Sans',sans-serif;font-size:107.6px;stroke-width:3.75px;">M</tspan><tspan x="420.2" y="371.9" textLength="40.66" lengthAdjust="spacingAndGlyphs" style="font-family:'DejaVu Sans Condensed','DejaVu Sans','Liberation Sans',sans-serif;font-size:93.0px;stroke-width:4.6px;">a</tspan><tspan x="455.0" y="373.4" textLength="51.66" lengthAdjust="spacingAndGlyphs" style="font-family:'DejaVu Sans Condensed','DejaVu Sans','Liberation Sans',sans-serif;font-size:97.2px;stroke-width:2.87px;">p</tspan><tspan> </tspan><tspan x="520.3" y="377.8" textLength="52.47" lengthAdjust="spacingAndGlyphs" style="font-family:'DejaVu Sans Condensed','DejaVu Sans','Liberation Sans',sans-serif;font-size:105.8px;stroke-width:3.6px;">{</tspan><tspan x="559.5" y="373.2" textLength="31.93" lengthAdjust="spacingAndGlyphs" style="font-family:'DejaVu Sans Condensed','DejaVu Sans','Liberation Sans',sans-serif;font-size:85.2px;stroke-width:1.6px;">i</tspan><tspan x="586.3" y="373.3" textLength="38.02" lengthAdjust="spacingAndGlyphs" style="font-family:'DejaVu Sans Condensed','DejaVu Sans','Liberation Sans',sans-serif;font-size:89.9px;stroke-width:2.4px;">t</tspan><tspan x="625.0" y="369.0" textLength="24.06" lengthAdjust="spacingAndGlyphs" style="font-family:'DejaVu Sans Condensed','DejaVu Sans','Liberation Sans',sans-serif;font-size:72.6px;stroke-width:8.0px;">.</tspan><tspan x="647.6" y="373.6" textLength="42.80" lengthAdjust="spacingAndGlyphs" style="font-family:'DejaVu Sans Condensed','DejaVu Sans','Liberation Sans',sans-serif;font-size:89.0px;stroke-width:3.85px;fill:#35adb1;stroke:#35adb1;">v</tspan><tspan x="688.7" y="371.9" textLength="42.36" lengthAdjust="spacingAndGlyphs" style="font-family:'DejaVu Sans Condensed','DejaVu Sans','Liberation Sans',sans-serif;font-size:93.0px;stroke-width:4.57px;fill:#35adb1;stroke:#35adb1;">a</tspan><tspan x="723.6" y="373.8" textLength="30.76" lengthAdjust="spacingAndGlyphs" style="font-family:'DejaVu Sans Condensed','DejaVu Sans','Liberation Sans',sans-serif;font-size:102.5px;stroke-width:0.5px;fill:#35adb1;stroke:#35adb1;">l</tspan><tspan x="744.8" y="372.6" textLength="47.38" lengthAdjust="spacingAndGlyphs" style="font-family:'DejaVu Sans Condensed','DejaVu Sans','Liberation Sans',sans-serif;font-size:84.4px;stroke-width:3.32px;fill:#35adb1;stroke:#35adb1;">u</tspan><tspan x="791.5" y="371.8" textLength="37.86" lengthAdjust="spacingAndGlyphs" style="font-family:'DejaVu Sans Condensed','DejaVu Sans','Liberation Sans',sans-serif;font-size:82.4px;stroke-width:4.6px;fill:#35adb1;stroke:#35adb1;">e</tspan><tspan> </tspan><tspan x="856.9" y="403.3" textLength="41.36" lengthAdjust="spacingAndGlyphs" style="font-family:'Liberation Sans',sans-serif;font-size:110.8px;stroke-width:4.5px;">*</tspan><tspan> </tspan><tspan x="917.2" y="373.2" textLength="44.82" lengthAdjust="spacingAndGlyphs" style="font-family:'DejaVu Sans','Liberation Sans',sans-serif;font-weight:bold;font-size:109.3px;stroke-width:1.5px;fill:#1c87d1;stroke:#1c87d1;">1</tspan><tspan x="960.2" y="372.8" textLength="45.20" lengthAdjust="spacingAndGlyphs" style="font-family:'DejaVu Sans','Liberation Sans',sans-serif;font-weight:bold;font-size:105.8px;stroke-width:1.5px;fill:#1c87d1;stroke:#1c87d1;">0</tspan><tspan x="996.5" y="377.8" textLength="50.96" lengthAdjust="spacingAndGlyphs" style="font-family:'DejaVu Sans Condensed','DejaVu Sans','Liberation Sans',sans-serif;font-size:105.3px;stroke-width:3.6px;">}</tspan></text>
</svg>
</body></html>
